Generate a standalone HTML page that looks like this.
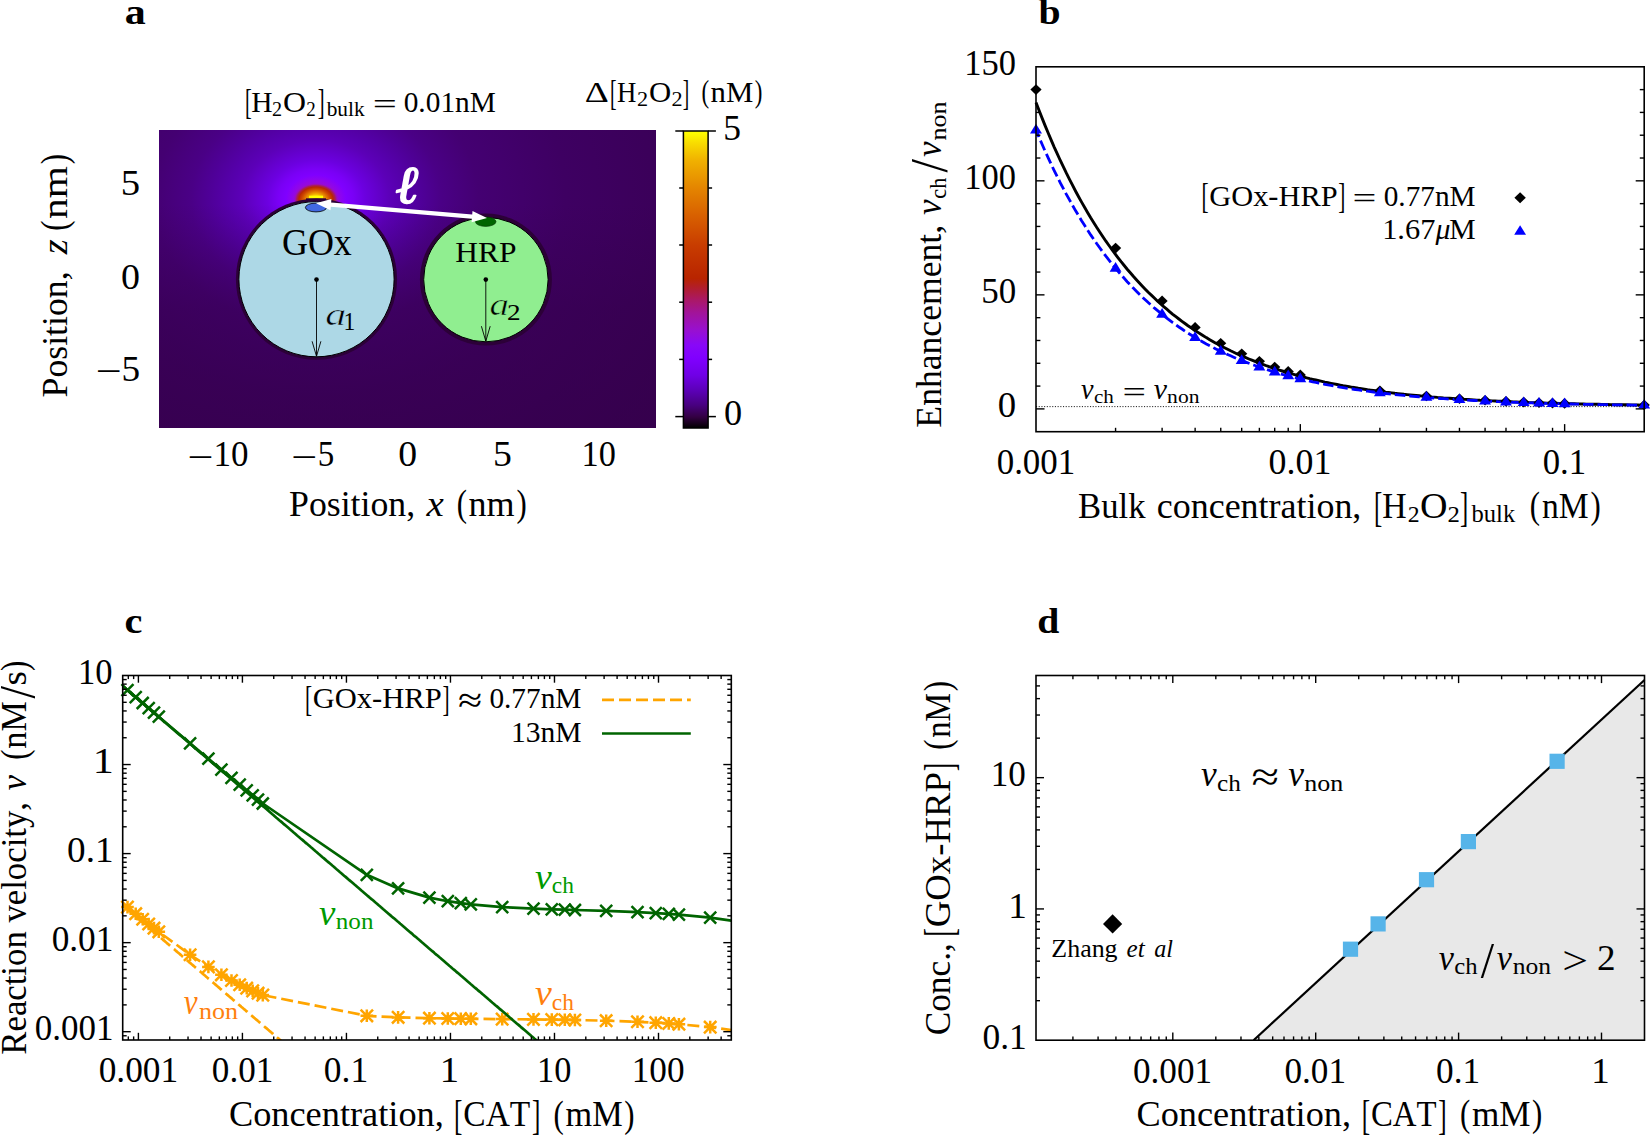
<!DOCTYPE html>
<html><head><meta charset="utf-8"><title>Figure</title>
<style>html,body{margin:0;padding:0;background:#fff}svg{display:block}</style></head>
<body>
<svg width="1650" height="1135" viewBox="0 0 1650 1135" font-family='"Liberation Serif", "DejaVu Serif", serif' fill="#000" style="font-kerning:none">
<rect x="0" y="0" width="1650" height="1135" fill="#fff"/>
<text x="124.65" y="24.3" font-size="36.0" font-weight="bold" textLength="20.99" lengthAdjust="spacingAndGlyphs">a</text>
<text x="1038.50" y="24.3" font-size="36.0" font-weight="bold" textLength="22.12" lengthAdjust="spacingAndGlyphs">b</text>
<text x="124.62" y="633.2" font-size="36.0" font-weight="bold" textLength="17.88" lengthAdjust="spacingAndGlyphs">c</text>
<text x="1037.39" y="633.2" font-size="36.0" font-weight="bold" textLength="22.05" lengthAdjust="spacingAndGlyphs">d</text>
<defs>
<radialGradient id="hg" gradientUnits="userSpaceOnUse" cx="0" cy="0" r="340" gradientTransform="translate(316 199) scale(1.25 1)">
<stop offset="0.0000" stop-color="#9808d8"/>
<stop offset="0.0500" stop-color="#9408e0"/>
<stop offset="0.0588" stop-color="#8c04f0"/>
<stop offset="0.0706" stop-color="#8000ff"/>
<stop offset="0.0882" stop-color="#7a00f6"/>
<stop offset="0.1147" stop-color="#6c00e0"/>
<stop offset="0.1441" stop-color="#6400cc"/>
<stop offset="0.1735" stop-color="#5c00b8"/>
<stop offset="0.2029" stop-color="#5600ac"/>
<stop offset="0.2500" stop-color="#4f0098"/>
<stop offset="0.2941" stop-color="#4a0086"/>
<stop offset="0.3824" stop-color="#440072"/>
<stop offset="0.5882" stop-color="#3e0062"/>
<stop offset="1.0000" stop-color="#380052"/>
</radialGradient>
<linearGradient id="cb" x1="0" y1="1" x2="0" y2="0">
<stop offset="0.0000" stop-color="#000000"/>
<stop offset="0.0134" stop-color="#140018"/>
<stop offset="0.0369" stop-color="#330042"/>
<stop offset="0.0772" stop-color="#480080"/>
<stop offset="0.1275" stop-color="#5c00b8"/>
<stop offset="0.1779" stop-color="#7000e6"/>
<stop offset="0.2349" stop-color="#8000ff"/>
<stop offset="0.2785" stop-color="#8808f8"/>
<stop offset="0.3289" stop-color="#9810d0"/>
<stop offset="0.3893" stop-color="#a21498"/>
<stop offset="0.4295" stop-color="#aa1868"/>
<stop offset="0.4631" stop-color="#b01c38"/>
<stop offset="0.5034" stop-color="#b82400"/>
<stop offset="0.6141" stop-color="#c83c00"/>
<stop offset="0.7148" stop-color="#d86000"/>
<stop offset="0.8054" stop-color="#e48400"/>
<stop offset="0.8993" stop-color="#f0b000"/>
<stop offset="0.9597" stop-color="#f8dc00"/>
<stop offset="0.9966" stop-color="#ffff00"/>
</linearGradient>
<linearGradient id="dk" x1="0" y1="0" x2="0" y2="1"><stop offset="0.25" stop-color="#34004a" stop-opacity="0"/><stop offset="0.6" stop-color="#34004a" stop-opacity="0.45"/><stop offset="1" stop-color="#34004a" stop-opacity="0.6"/></linearGradient>
<radialGradient id="hs" gradientUnits="userSpaceOnUse" cx="0" cy="0" r="17" gradientTransform="translate(316 199.6) scale(1.36 1)">
<stop offset="0.00" stop-color="#ffff00" stop-opacity="1.00"/>
<stop offset="0.20" stop-color="#ffe000" stop-opacity="1.00"/>
<stop offset="0.34" stop-color="#f0a800" stop-opacity="1.00"/>
<stop offset="0.48" stop-color="#e07400" stop-opacity="1.00"/>
<stop offset="0.62" stop-color="#cc4400" stop-opacity="1.00"/>
<stop offset="0.74" stop-color="#b82800" stop-opacity="1.00"/>
<stop offset="0.84" stop-color="#ac2040" stop-opacity="0.80"/>
<stop offset="0.92" stop-color="#a014a0" stop-opacity="0.40"/>
<stop offset="1.00" stop-color="#9408e0" stop-opacity="0.00"/>
</radialGradient>
<clipPath id="hc"><rect x="159" y="130" width="497" height="298"/></clipPath>
</defs>
<rect x="159" y="130" width="497" height="298" fill="url(#hg)"/>
<rect x="159" y="130" width="497" height="298" fill="url(#dk)"/>
<ellipse cx="316" cy="199.6" rx="23.2" ry="17" fill="url(#hs)"/>
<rect x="309" y="195.7" width="14" height="3.1" fill="#ffff00"/>
<circle cx="316.5" cy="279.2" r="80.6" fill="#2c0038"/>
<circle cx="316.5" cy="279.2" r="77.6" fill="#add8e6" stroke="#000" stroke-width="1"/>
<circle cx="485.9" cy="279.6" r="66.0" fill="#2c0038"/>
<circle cx="485.9" cy="279.6" r="62.2" fill="#90ee90" stroke="#000" stroke-width="1"/>
<rect x="306" y="198.3" width="20" height="3.2" fill="#2c0038"/>
<ellipse cx="316" cy="207.5" rx="10.6" ry="4.4" fill="#4169e1" stroke="#000" stroke-width="0.8"/>
<ellipse cx="485.7" cy="221.7" rx="10.3" ry="4.7" fill="#006400" stroke="#003000" stroke-width="0.6"/>
<line x1="327.96" y1="204.32" x2="475.04" y2="216.88" stroke="#fff" stroke-width="4.40"/>
<polygon points="316.0,203.3 330.5,210.2 331.4,199.0" fill="#fff"/>
<polygon points="487.0,217.9 471.6,222.2 472.5,211.0" fill="#fff"/>
<text x="396.39" y="203.4" font-size="53.0" font-style="italic" font-weight="bold" fill="#fff" stroke="#fff" stroke-width="1.6" stroke-linejoin="round" textLength="23.38" lengthAdjust="spacingAndGlyphs">ℓ</text>
<text x="281.93" y="254.7" font-size="37.0" textLength="69.91" lengthAdjust="spacingAndGlyphs">GOx</text>
<text x="455.29" y="261.6" font-size="29.0" textLength="61.27" lengthAdjust="spacingAndGlyphs">HRP</text>
<circle cx="316.5" cy="279.6" r="2.3" fill="#000"/>
<line x1="316.50" y1="279.60" x2="316.50" y2="356.30" stroke="#000" stroke-width="0.90"/>
<path d="M312.1 341.3 L316.5 356.3 L320.9 341.3" stroke="#000" stroke-width="0.90" fill="none"/>
<circle cx="485.8" cy="279.6" r="2.3" fill="#000"/>
<line x1="485.80" y1="279.60" x2="485.80" y2="341.20" stroke="#000" stroke-width="0.90"/>
<path d="M481.4 326.2 L485.8 341.2 L490.2 326.2" stroke="#000" stroke-width="0.90" fill="none"/>
<text><tspan x="325.25" y="324.8" font-size="32.4" font-style="italic" stroke="#add8e6" stroke-width="0.6" textLength="21.03" lengthAdjust="spacingAndGlyphs">a</tspan><tspan x="343.43" y="329.6" font-size="24.5" textLength="11.79" lengthAdjust="spacingAndGlyphs">1</tspan></text>
<text><tspan x="489.44" y="315.0" font-size="32.2" font-style="italic" stroke="#90ee90" stroke-width="0.6" textLength="19.53" lengthAdjust="spacingAndGlyphs">a</tspan><tspan x="506.91" y="320.0" font-size="22.5" textLength="13.60" lengthAdjust="spacingAndGlyphs">2</tspan></text>
<text><tspan x="245.00" y="114.0" font-size="35.6" textLength="6.73" lengthAdjust="spacingAndGlyphs">[</tspan><tspan x="251.15" y="111.6" font-size="30.4" textLength="21.32" lengthAdjust="spacingAndGlyphs">H</tspan><tspan x="271.91" y="115.8" font-size="20.0" textLength="10.10" lengthAdjust="spacingAndGlyphs">2</tspan><tspan x="282.99" y="111.6" font-size="30.4" textLength="23.01" lengthAdjust="spacingAndGlyphs">O</tspan><tspan x="306.37" y="115.8" font-size="20.0" textLength="9.48" lengthAdjust="spacingAndGlyphs">2</tspan><tspan x="317.65" y="114.0" font-size="35.6" textLength="6.88" lengthAdjust="spacingAndGlyphs">]</tspan><tspan x="326.70" y="115.8" font-size="21.5" textLength="37.90" lengthAdjust="spacingAndGlyphs">bulk</tspan> <tspan x="372.87" y="114.1" font-size="29.6" textLength="24.12" lengthAdjust="spacingAndGlyphs">=</tspan> <tspan x="403.68" y="111.6" font-size="30.4" textLength="92.18" lengthAdjust="spacingAndGlyphs">0.01nM</tspan></text>
<text><tspan x="584.88" y="102.0" font-size="30.4" textLength="24.03" lengthAdjust="spacingAndGlyphs">Δ</tspan><tspan x="609.93" y="104.6" font-size="35.9" textLength="6.58" lengthAdjust="spacingAndGlyphs">[</tspan><tspan x="616.93" y="102.0" font-size="30.4" textLength="19.36" lengthAdjust="spacingAndGlyphs">H</tspan><tspan x="637.12" y="105.8" font-size="20.0" textLength="11.10" lengthAdjust="spacingAndGlyphs">2</tspan><tspan x="648.94" y="102.0" font-size="30.4" textLength="22.22" lengthAdjust="spacingAndGlyphs">O</tspan><tspan x="671.52" y="105.8" font-size="20.0" textLength="11.10" lengthAdjust="spacingAndGlyphs">2</tspan><tspan x="682.80" y="104.6" font-size="35.9" textLength="6.43" lengthAdjust="spacingAndGlyphs">]</tspan> <tspan x="701.39" y="102.4" font-size="32.4" textLength="7.65" lengthAdjust="spacingAndGlyphs">(</tspan><tspan x="710.59" y="102.0" font-size="30.4" textLength="42.71" lengthAdjust="spacingAndGlyphs">nM</tspan><tspan x="754.66" y="102.4" font-size="32.4" textLength="7.65" lengthAdjust="spacingAndGlyphs">)</tspan></text>
<rect x="683.4" y="131" width="24.7" height="297" fill="url(#cb)" stroke="#000" stroke-width="1.5"/>
<line x1="675.30" y1="131.00" x2="683.40" y2="131.00" stroke="#000" stroke-width="1.50"/>
<line x1="708.10" y1="131.00" x2="715.90" y2="131.00" stroke="#000" stroke-width="1.50"/>
<line x1="679.20" y1="188.00" x2="683.40" y2="188.00" stroke="#000" stroke-width="1.50"/>
<line x1="708.10" y1="188.00" x2="712.10" y2="188.00" stroke="#000" stroke-width="1.50"/>
<line x1="679.20" y1="245.00" x2="683.40" y2="245.00" stroke="#000" stroke-width="1.50"/>
<line x1="708.10" y1="245.00" x2="712.10" y2="245.00" stroke="#000" stroke-width="1.50"/>
<line x1="679.20" y1="302.20" x2="683.40" y2="302.20" stroke="#000" stroke-width="1.50"/>
<line x1="708.10" y1="302.20" x2="712.10" y2="302.20" stroke="#000" stroke-width="1.50"/>
<line x1="679.20" y1="359.40" x2="683.40" y2="359.40" stroke="#000" stroke-width="1.50"/>
<line x1="708.10" y1="359.40" x2="712.10" y2="359.40" stroke="#000" stroke-width="1.50"/>
<line x1="675.30" y1="416.60" x2="683.40" y2="416.60" stroke="#000" stroke-width="1.50"/>
<line x1="708.10" y1="416.60" x2="715.90" y2="416.60" stroke="#000" stroke-width="1.50"/>
<text x="723.34" y="139.5" font-size="35.5" textLength="17.75" lengthAdjust="spacingAndGlyphs">5</text>
<text x="724.02" y="425.3" font-size="35.5" textLength="18.17" lengthAdjust="spacingAndGlyphs">0</text>
<text><tspan x="187.20" y="468.5" font-size="35.5" textLength="26.06" lengthAdjust="spacingAndGlyphs">−</tspan><tspan x="213.42" y="466.4" font-size="35.5" textLength="35.01" lengthAdjust="spacingAndGlyphs">10</tspan></text>
<text><tspan x="291.10" y="468.5" font-size="35.5" textLength="26.06" lengthAdjust="spacingAndGlyphs">−</tspan><tspan x="317.68" y="466.4" font-size="35.5" textLength="16.51" lengthAdjust="spacingAndGlyphs">5</tspan></text>
<text x="398.36" y="466.4" font-size="35.5" textLength="18.88" lengthAdjust="spacingAndGlyphs">0</text>
<text x="493.01" y="466.4" font-size="35.5" textLength="18.87" lengthAdjust="spacingAndGlyphs">5</text>
<text x="581.48" y="466.4" font-size="35.5" textLength="34.32" lengthAdjust="spacingAndGlyphs">10</text>
<text><tspan x="289.07" y="515.8" font-size="35.5" textLength="126.08" lengthAdjust="spacingAndGlyphs">Position,</tspan> <tspan x="426.48" y="515.8" font-size="35.5" font-style="italic" textLength="17.31" lengthAdjust="spacingAndGlyphs">x</tspan> <tspan x="456.65" y="516.3" font-size="37.8" textLength="10.24" lengthAdjust="spacingAndGlyphs">(</tspan><tspan x="468.57" y="515.8" font-size="35.5" textLength="46.09" lengthAdjust="spacingAndGlyphs">nm</tspan><tspan x="516.61" y="516.3" font-size="37.8" textLength="10.24" lengthAdjust="spacingAndGlyphs">)</tspan></text>
<text x="120.75" y="194.7" font-size="35.5" textLength="19.36" lengthAdjust="spacingAndGlyphs">5</text>
<text x="121.05" y="288.6" font-size="35.5" textLength="18.99" lengthAdjust="spacingAndGlyphs">0</text>
<text><tspan x="95.40" y="383.0" font-size="35.5" textLength="26.06" lengthAdjust="spacingAndGlyphs">−</tspan><tspan x="121.44" y="380.9" font-size="35.5" textLength="18.62" lengthAdjust="spacingAndGlyphs">5</tspan></text>
<text transform="rotate(-90)"><tspan x="-397.43" y="66.7" font-size="35.5" textLength="125.98" lengthAdjust="spacingAndGlyphs">Position,</tspan> <tspan x="-254.37" y="66.7" font-size="35.5" font-style="italic" textLength="14.98" lengthAdjust="spacingAndGlyphs">z</tspan> <tspan x="-230.75" y="67.2" font-size="37.8" textLength="10.24" lengthAdjust="spacingAndGlyphs">(</tspan><tspan x="-218.95" y="66.7" font-size="35.5" textLength="52.90" lengthAdjust="spacingAndGlyphs">nm</tspan><tspan x="-164.19" y="67.2" font-size="37.8" textLength="10.24" lengthAdjust="spacingAndGlyphs">)</tspan></text>
<line x1="1036.00" y1="406.61" x2="1644.20" y2="406.61" stroke="#000" stroke-width="0.90" stroke-dasharray="1.1 1.6"/>
<path d="M1036.0,102.4 L1039.0,110.3 L1042.1,118.1 L1045.1,125.6 L1048.2,133.0 L1051.2,140.1 L1054.2,147.1 L1057.3,153.9 L1060.3,160.5 L1063.4,166.9 L1066.4,173.2 L1069.5,179.3 L1072.5,185.2 L1075.5,191.0 L1078.6,196.7 L1081.6,202.1 L1084.7,207.5 L1087.7,212.7 L1090.7,217.8 L1093.8,222.7 L1096.8,227.5 L1099.9,232.2 L1102.9,236.8 L1105.9,241.2 L1109.0,245.5 L1112.0,249.7 L1115.1,253.8 L1118.1,257.8 L1121.1,261.7 L1124.2,265.5 L1127.2,269.2 L1130.3,272.8 L1133.3,276.3 L1136.4,279.7 L1139.4,283.0 L1142.4,286.2 L1145.5,289.4 L1148.5,292.5 L1151.6,295.4 L1154.6,298.3 L1157.6,301.2 L1160.7,303.9 L1163.7,306.6 L1166.8,309.2 L1169.8,311.8 L1172.8,314.3 L1175.9,316.7 L1178.9,319.0 L1182.0,321.3 L1185.0,323.5 L1188.0,325.7 L1191.1,327.8 L1194.1,329.9 L1197.2,331.9 L1200.2,333.8 L1203.3,335.7 L1206.3,337.6 L1209.3,339.4 L1212.4,341.2 L1215.4,342.9 L1218.5,344.5 L1221.5,346.2 L1224.5,347.7 L1227.6,349.3 L1230.6,350.8 L1233.7,352.2 L1236.7,353.7 L1239.7,355.0 L1242.8,356.4 L1245.8,357.7 L1248.9,359.0 L1251.9,360.2 L1255.0,361.4 L1258.0,362.6 L1261.0,363.8 L1264.1,364.9 L1267.1,366.0 L1270.2,367.0 L1273.2,368.1 L1276.2,369.1 L1279.3,370.1 L1282.3,371.0 L1285.4,372.0 L1288.4,372.9 L1291.4,373.7 L1294.5,374.6 L1297.5,375.4 L1300.6,376.3 L1303.6,377.0 L1306.6,377.8 L1309.7,378.6 L1312.7,379.3 L1315.8,380.0 L1318.8,380.7 L1321.9,381.4 L1324.9,382.1 L1327.9,382.7 L1331.0,383.3 L1334.0,383.9 L1337.1,384.5 L1340.1,385.1 L1343.1,385.7 L1346.2,386.2 L1349.2,386.7 L1352.3,387.3 L1355.3,387.8 L1358.3,388.3 L1361.4,388.7 L1364.4,389.2 L1367.5,389.7 L1370.5,390.1 L1373.6,390.5 L1376.6,391.0 L1379.6,391.4 L1382.7,391.8 L1385.7,392.2 L1388.8,392.5 L1391.8,392.9 L1394.8,393.3 L1397.9,393.6 L1400.9,393.9 L1404.0,394.3 L1407.0,394.6 L1410.0,394.9 L1413.1,395.2 L1416.1,395.5 L1419.2,395.8 L1422.2,396.1 L1425.2,396.4 L1428.3,396.6 L1431.3,396.9 L1434.4,397.1 L1437.4,397.4 L1440.5,397.6 L1443.5,397.9 L1446.5,398.1 L1449.6,398.3 L1452.6,398.5 L1455.7,398.8 L1458.7,399.0 L1461.7,399.2 L1464.8,399.4 L1467.8,399.5 L1470.9,399.7 L1473.9,399.9 L1476.9,400.1 L1480.0,400.3 L1483.0,400.4 L1486.1,400.6 L1489.1,400.7 L1492.2,400.9 L1495.2,401.0 L1498.2,401.2 L1501.3,401.3 L1504.3,401.5 L1507.4,401.6 L1510.4,401.7 L1513.4,401.9 L1516.5,402.0 L1519.5,402.1 L1522.6,402.2 L1525.6,402.3 L1528.6,402.5 L1531.7,402.6 L1534.7,402.7 L1537.8,402.8 L1540.8,402.9 L1543.8,403.0 L1546.9,403.1 L1549.9,403.2 L1553.0,403.2 L1556.0,403.3 L1559.1,403.4 L1562.1,403.5 L1565.1,403.6 L1568.2,403.7 L1571.2,403.7 L1574.3,403.8 L1577.3,403.9 L1580.3,404.0 L1583.4,404.0 L1586.4,404.1 L1589.5,404.2 L1592.5,404.2 L1595.5,404.3 L1598.6,404.3 L1601.6,404.4 L1604.7,404.5 L1607.7,404.5 L1610.7,404.6 L1613.8,404.6 L1616.8,404.7 L1619.9,404.7 L1622.9,404.8 L1626.0,404.8 L1629.0,404.9 L1632.0,404.9 L1635.1,405.0 L1638.1,405.0 L1641.2,405.1 L1644.2,405.1" stroke="#000" stroke-width="2.90" fill="none"/>
<path d="M1036.0,130.0 L1039.0,137.2 L1042.1,144.2 L1045.1,151.1 L1048.2,157.8 L1051.2,164.3 L1054.2,170.6 L1057.3,176.8 L1060.3,182.8 L1063.4,188.7 L1066.4,194.4 L1069.5,199.9 L1072.5,205.3 L1075.5,210.6 L1078.6,215.7 L1081.6,220.7 L1084.7,225.5 L1087.7,230.3 L1090.7,234.9 L1093.8,239.4 L1096.8,243.8 L1099.9,248.0 L1102.9,252.2 L1105.9,256.2 L1109.0,260.1 L1112.0,264.0 L1115.1,267.7 L1118.1,271.3 L1121.1,274.9 L1124.2,278.3 L1127.2,281.7 L1130.3,284.9 L1133.3,288.1 L1136.4,291.2 L1139.4,294.2 L1142.4,297.2 L1145.5,300.0 L1148.5,302.8 L1151.6,305.5 L1154.6,308.2 L1157.6,310.7 L1160.7,313.2 L1163.7,315.7 L1166.8,318.1 L1169.8,320.4 L1172.8,322.6 L1175.9,324.8 L1178.9,327.0 L1182.0,329.0 L1185.0,331.1 L1188.0,333.1 L1191.1,335.0 L1194.1,336.8 L1197.2,338.7 L1200.2,340.4 L1203.3,342.2 L1206.3,343.9 L1209.3,345.5 L1212.4,347.1 L1215.4,348.7 L1218.5,350.2 L1221.5,351.6 L1224.5,353.1 L1227.6,354.5 L1230.6,355.8 L1233.7,357.2 L1236.7,358.5 L1239.7,359.7 L1242.8,361.0 L1245.8,362.1 L1248.9,363.3 L1251.9,364.4 L1255.0,365.5 L1258.0,366.6 L1261.0,367.7 L1264.1,368.7 L1267.1,369.7 L1270.2,370.6 L1273.2,371.6 L1276.2,372.5 L1279.3,373.4 L1282.3,374.3 L1285.4,375.1 L1288.4,375.9 L1291.4,376.7 L1294.5,377.5 L1297.5,378.3 L1300.6,379.0 L1303.6,379.7 L1306.6,380.4 L1309.7,381.1 L1312.7,381.8 L1315.8,382.4 L1318.8,383.1 L1321.9,383.7 L1324.9,384.3 L1327.9,384.9 L1331.0,385.4 L1334.0,386.0 L1337.1,386.5 L1340.1,387.1 L1343.1,387.6 L1346.2,388.1 L1349.2,388.5 L1352.3,389.0 L1355.3,389.5 L1358.3,389.9 L1361.4,390.4 L1364.4,390.8 L1367.5,391.2 L1370.5,391.6 L1373.6,392.0 L1376.6,392.4 L1379.6,392.8 L1382.7,393.1 L1385.7,393.5 L1388.8,393.8 L1391.8,394.1 L1394.8,394.5 L1397.9,394.8 L1400.9,395.1 L1404.0,395.4 L1407.0,395.7 L1410.0,396.0 L1413.1,396.3 L1416.1,396.5 L1419.2,396.8 L1422.2,397.0 L1425.2,397.3 L1428.3,397.5 L1431.3,397.8 L1434.4,398.0 L1437.4,398.2 L1440.5,398.5 L1443.5,398.7 L1446.5,398.9 L1449.6,399.1 L1452.6,399.3 L1455.7,399.5 L1458.7,399.7 L1461.7,399.8 L1464.8,400.0 L1467.8,400.2 L1470.9,400.4 L1473.9,400.5 L1476.9,400.7 L1480.0,400.8 L1483.0,401.0 L1486.1,401.1 L1489.1,401.3 L1492.2,401.4 L1495.2,401.5 L1498.2,401.7 L1501.3,401.8 L1504.3,401.9 L1507.4,402.1 L1510.4,402.2 L1513.4,402.3 L1516.5,402.4 L1519.5,402.5 L1522.6,402.6 L1525.6,402.7 L1528.6,402.8 L1531.7,402.9 L1534.7,403.0 L1537.8,403.1 L1540.8,403.2 L1543.8,403.3 L1546.9,403.4 L1549.9,403.5 L1553.0,403.6 L1556.0,403.6 L1559.1,403.7 L1562.1,403.8 L1565.1,403.9 L1568.2,403.9 L1571.2,404.0 L1574.3,404.1 L1577.3,404.1 L1580.3,404.2 L1583.4,404.3 L1586.4,404.3 L1589.5,404.4 L1592.5,404.4 L1595.5,404.5 L1598.6,404.6 L1601.6,404.6 L1604.7,404.7 L1607.7,404.7 L1610.7,404.8 L1613.8,404.8 L1616.8,404.9 L1619.9,404.9 L1622.9,404.9 L1626.0,405.0 L1629.0,405.0 L1632.0,405.1 L1635.1,405.1 L1638.1,405.2 L1641.2,405.2 L1644.2,405.2" stroke="#0000ff" stroke-width="2.80" fill="none" stroke-dasharray="10.5 4" stroke-dashoffset="3"/>
<polygon points="1030.4,89.6 1036.0,84.3 1041.6,89.6 1036.0,94.9" fill="#000"/>
<polygon points="1110.0,248.1 1115.6,242.8 1121.2,248.1 1115.6,253.4" fill="#000"/>
<polygon points="1156.5,300.9 1162.1,295.6 1167.7,300.9 1162.1,306.2" fill="#000"/>
<polygon points="1189.5,327.4 1195.1,322.1 1200.7,327.4 1195.1,332.7" fill="#000"/>
<polygon points="1215.1,343.2 1220.7,337.9 1226.3,343.2 1220.7,348.5" fill="#000"/>
<polygon points="1236.1,353.8 1241.7,348.5 1247.3,353.8 1241.7,359.1" fill="#000"/>
<polygon points="1253.8,361.3 1259.4,356.0 1265.0,361.3 1259.4,366.6" fill="#000"/>
<polygon points="1269.1,367.0 1274.7,361.7 1280.3,367.0 1274.7,372.3" fill="#000"/>
<polygon points="1282.6,371.4 1288.2,366.1 1293.8,371.4 1288.2,376.7" fill="#000"/>
<polygon points="1294.7,374.9 1300.3,369.6 1305.9,374.9 1300.3,380.2" fill="#000"/>
<polygon points="1374.3,390.8 1379.9,385.5 1385.5,390.8 1379.9,396.1" fill="#000"/>
<polygon points="1420.8,396.0 1426.4,390.7 1432.0,396.0 1426.4,401.3" fill="#000"/>
<polygon points="1453.9,398.7 1459.5,393.4 1465.1,398.7 1459.5,404.0" fill="#000"/>
<polygon points="1479.5,400.3 1485.1,395.0 1490.7,400.3 1485.1,405.6" fill="#000"/>
<polygon points="1500.4,401.3 1506.0,396.0 1511.6,401.3 1506.0,406.6" fill="#000"/>
<polygon points="1518.1,402.1 1523.7,396.8 1529.3,402.1 1523.7,407.4" fill="#000"/>
<polygon points="1533.4,402.7 1539.0,397.4 1544.6,402.7 1539.0,408.0" fill="#000"/>
<polygon points="1546.9,403.1 1552.5,397.8 1558.1,403.1 1552.5,408.4" fill="#000"/>
<polygon points="1559.0,403.4 1564.6,398.1 1570.2,403.4 1564.6,408.7" fill="#000"/>
<polygon points="1638.6,405.0 1644.2,399.7 1649.8,405.0 1644.2,410.3" fill="#000"/>
<polygon points="1030.0,133.4 1036.0,123.7 1042.0,133.4" fill="#0000ff"/>
<polygon points="1109.6,271.7 1115.6,262.0 1121.5,271.7" fill="#0000ff"/>
<polygon points="1156.2,317.8 1162.1,308.1 1168.1,317.8" fill="#0000ff"/>
<polygon points="1189.2,340.9 1195.1,331.2 1201.1,340.9" fill="#0000ff"/>
<polygon points="1214.8,354.7 1220.7,345.0 1226.7,354.7" fill="#0000ff"/>
<polygon points="1235.7,363.9 1241.7,354.2 1247.6,363.9" fill="#0000ff"/>
<polygon points="1253.4,370.5 1259.4,360.8 1265.3,370.5" fill="#0000ff"/>
<polygon points="1268.8,375.4 1274.7,365.7 1280.7,375.4" fill="#0000ff"/>
<polygon points="1282.3,379.3 1288.2,369.6 1294.2,379.3" fill="#0000ff"/>
<polygon points="1294.4,382.3 1300.3,372.6 1306.3,382.3" fill="#0000ff"/>
<polygon points="1373.9,396.2 1379.9,386.5 1385.8,396.2" fill="#0000ff"/>
<polygon points="1420.5,400.8 1426.4,391.1 1432.4,400.8" fill="#0000ff"/>
<polygon points="1453.5,403.1 1459.5,393.4 1465.4,403.1" fill="#0000ff"/>
<polygon points="1479.1,404.5 1485.1,394.8 1491.0,404.5" fill="#0000ff"/>
<polygon points="1500.0,405.4 1506.0,395.7 1511.9,405.4" fill="#0000ff"/>
<polygon points="1517.7,406.1 1523.7,396.4 1529.6,406.1" fill="#0000ff"/>
<polygon points="1533.1,406.6 1539.0,396.9 1545.0,406.6" fill="#0000ff"/>
<polygon points="1546.6,406.9 1552.5,397.2 1558.5,406.9" fill="#0000ff"/>
<polygon points="1558.7,407.2 1564.6,397.5 1570.6,407.2" fill="#0000ff"/>
<polygon points="1638.2,408.6 1644.2,398.9 1650.2,408.6" fill="#0000ff"/>
<rect x="1036.0" y="66.8" width="608.2" height="364.9" fill="none" stroke="#000" stroke-width="1.60"/>
<line x1="1115.57" y1="431.70" x2="1115.57" y2="427.80" stroke="#000" stroke-width="1.40"/>
<line x1="1162.11" y1="431.70" x2="1162.11" y2="427.80" stroke="#000" stroke-width="1.40"/>
<line x1="1195.13" y1="431.70" x2="1195.13" y2="427.80" stroke="#000" stroke-width="1.40"/>
<line x1="1220.75" y1="431.70" x2="1220.75" y2="427.80" stroke="#000" stroke-width="1.40"/>
<line x1="1241.68" y1="431.70" x2="1241.68" y2="427.80" stroke="#000" stroke-width="1.40"/>
<line x1="1259.37" y1="431.70" x2="1259.37" y2="427.80" stroke="#000" stroke-width="1.40"/>
<line x1="1274.70" y1="431.70" x2="1274.70" y2="427.80" stroke="#000" stroke-width="1.40"/>
<line x1="1288.22" y1="431.70" x2="1288.22" y2="427.80" stroke="#000" stroke-width="1.40"/>
<line x1="1300.32" y1="431.70" x2="1300.32" y2="424.10" stroke="#000" stroke-width="1.40"/>
<line x1="1379.88" y1="431.70" x2="1379.88" y2="427.80" stroke="#000" stroke-width="1.40"/>
<line x1="1426.43" y1="431.70" x2="1426.43" y2="427.80" stroke="#000" stroke-width="1.40"/>
<line x1="1459.45" y1="431.70" x2="1459.45" y2="427.80" stroke="#000" stroke-width="1.40"/>
<line x1="1485.07" y1="431.70" x2="1485.07" y2="427.80" stroke="#000" stroke-width="1.40"/>
<line x1="1505.99" y1="431.70" x2="1505.99" y2="427.80" stroke="#000" stroke-width="1.40"/>
<line x1="1523.69" y1="431.70" x2="1523.69" y2="427.80" stroke="#000" stroke-width="1.40"/>
<line x1="1539.02" y1="431.70" x2="1539.02" y2="427.80" stroke="#000" stroke-width="1.40"/>
<line x1="1552.54" y1="431.70" x2="1552.54" y2="427.80" stroke="#000" stroke-width="1.40"/>
<line x1="1564.63" y1="431.70" x2="1564.63" y2="424.10" stroke="#000" stroke-width="1.40"/>
<line x1="1036.00" y1="408.89" x2="1044.50" y2="408.89" stroke="#000" stroke-width="1.40"/>
<line x1="1644.20" y1="408.89" x2="1635.70" y2="408.89" stroke="#000" stroke-width="1.40"/>
<line x1="1036.00" y1="386.09" x2="1040.40" y2="386.09" stroke="#000" stroke-width="1.40"/>
<line x1="1644.20" y1="386.09" x2="1639.80" y2="386.09" stroke="#000" stroke-width="1.40"/>
<line x1="1036.00" y1="363.28" x2="1040.40" y2="363.28" stroke="#000" stroke-width="1.40"/>
<line x1="1644.20" y1="363.28" x2="1639.80" y2="363.28" stroke="#000" stroke-width="1.40"/>
<line x1="1036.00" y1="340.48" x2="1040.40" y2="340.48" stroke="#000" stroke-width="1.40"/>
<line x1="1644.20" y1="340.48" x2="1639.80" y2="340.48" stroke="#000" stroke-width="1.40"/>
<line x1="1036.00" y1="317.67" x2="1040.40" y2="317.67" stroke="#000" stroke-width="1.40"/>
<line x1="1644.20" y1="317.67" x2="1639.80" y2="317.67" stroke="#000" stroke-width="1.40"/>
<line x1="1036.00" y1="294.86" x2="1044.50" y2="294.86" stroke="#000" stroke-width="1.40"/>
<line x1="1644.20" y1="294.86" x2="1635.70" y2="294.86" stroke="#000" stroke-width="1.40"/>
<line x1="1036.00" y1="272.06" x2="1040.40" y2="272.06" stroke="#000" stroke-width="1.40"/>
<line x1="1644.20" y1="272.06" x2="1639.80" y2="272.06" stroke="#000" stroke-width="1.40"/>
<line x1="1036.00" y1="249.25" x2="1040.40" y2="249.25" stroke="#000" stroke-width="1.40"/>
<line x1="1644.20" y1="249.25" x2="1639.80" y2="249.25" stroke="#000" stroke-width="1.40"/>
<line x1="1036.00" y1="226.44" x2="1040.40" y2="226.44" stroke="#000" stroke-width="1.40"/>
<line x1="1644.20" y1="226.44" x2="1639.80" y2="226.44" stroke="#000" stroke-width="1.40"/>
<line x1="1036.00" y1="203.64" x2="1040.40" y2="203.64" stroke="#000" stroke-width="1.40"/>
<line x1="1644.20" y1="203.64" x2="1639.80" y2="203.64" stroke="#000" stroke-width="1.40"/>
<line x1="1036.00" y1="180.83" x2="1044.50" y2="180.83" stroke="#000" stroke-width="1.40"/>
<line x1="1644.20" y1="180.83" x2="1635.70" y2="180.83" stroke="#000" stroke-width="1.40"/>
<line x1="1036.00" y1="158.02" x2="1040.40" y2="158.02" stroke="#000" stroke-width="1.40"/>
<line x1="1644.20" y1="158.02" x2="1639.80" y2="158.02" stroke="#000" stroke-width="1.40"/>
<line x1="1036.00" y1="135.22" x2="1040.40" y2="135.22" stroke="#000" stroke-width="1.40"/>
<line x1="1644.20" y1="135.22" x2="1639.80" y2="135.22" stroke="#000" stroke-width="1.40"/>
<line x1="1036.00" y1="112.41" x2="1040.40" y2="112.41" stroke="#000" stroke-width="1.40"/>
<line x1="1644.20" y1="112.41" x2="1639.80" y2="112.41" stroke="#000" stroke-width="1.40"/>
<line x1="1036.00" y1="89.61" x2="1040.40" y2="89.61" stroke="#000" stroke-width="1.40"/>
<line x1="1644.20" y1="89.61" x2="1639.80" y2="89.61" stroke="#000" stroke-width="1.40"/>
<text x="964.37" y="75.2" font-size="35.5" textLength="51.75" lengthAdjust="spacingAndGlyphs">150</text>
<text x="964.37" y="189.2" font-size="35.5" textLength="51.75" lengthAdjust="spacingAndGlyphs">100</text>
<text x="981.17" y="303.3" font-size="35.5" textLength="34.96" lengthAdjust="spacingAndGlyphs">50</text>
<text x="997.80" y="417.3" font-size="35.5" textLength="18.40" lengthAdjust="spacingAndGlyphs">0</text>
<text x="996.67" y="474.0" font-size="35.5" textLength="78.63" lengthAdjust="spacingAndGlyphs">0.001</text>
<text x="1268.64" y="474.0" font-size="35.5" textLength="62.72" lengthAdjust="spacingAndGlyphs">0.01</text>
<text x="1542.68" y="474.0" font-size="35.5" textLength="43.41" lengthAdjust="spacingAndGlyphs">0.1</text>
<text><tspan x="1078.10" y="517.5" font-size="35.5" textLength="67.40" lengthAdjust="spacingAndGlyphs">Bulk</tspan> <tspan x="1156.83" y="517.5" font-size="35.5" textLength="204.53" lengthAdjust="spacingAndGlyphs">concentration,</tspan> <tspan x="1373.97" y="520.6" font-size="41.4" textLength="8.23" lengthAdjust="spacingAndGlyphs">[</tspan><tspan x="1382.33" y="517.5" font-size="35.5" textLength="24.36" lengthAdjust="spacingAndGlyphs">H</tspan><tspan x="1407.76" y="522.4" font-size="23.0" textLength="11.85" lengthAdjust="spacingAndGlyphs">2</tspan><tspan x="1419.94" y="517.5" font-size="35.5" textLength="27.53" lengthAdjust="spacingAndGlyphs">O</tspan><tspan x="1447.51" y="522.4" font-size="23.0" textLength="12.35" lengthAdjust="spacingAndGlyphs">2</tspan><tspan x="1460.01" y="520.6" font-size="41.4" textLength="8.23" lengthAdjust="spacingAndGlyphs">]</tspan><tspan x="1471.60" y="522.4" font-size="24.5" textLength="43.60" lengthAdjust="spacingAndGlyphs">bulk</tspan> <tspan x="1529.65" y="518.0" font-size="37.8" textLength="10.24" lengthAdjust="spacingAndGlyphs">(</tspan><tspan x="1542.03" y="517.5" font-size="35.5" textLength="46.65" lengthAdjust="spacingAndGlyphs">nM</tspan><tspan x="1590.61" y="518.0" font-size="37.8" textLength="10.24" lengthAdjust="spacingAndGlyphs">)</tspan></text>
<text transform="rotate(-90)"><tspan x="-427.63" y="940.6" font-size="35.5" textLength="202.67" lengthAdjust="spacingAndGlyphs">Enhancement,</tspan> <tspan x="-214.98" y="940.6" font-size="35.5" font-style="italic" textLength="15.58" lengthAdjust="spacingAndGlyphs">v</tspan><tspan x="-198.64" y="945.6" font-size="24.0" textLength="20.94" lengthAdjust="spacingAndGlyphs">ch</tspan><tspan x="-172.40" y="947.1" font-size="52.2" textLength="13.40" lengthAdjust="spacingAndGlyphs">/</tspan><tspan x="-157.08" y="940.6" font-size="35.5" font-style="italic" textLength="15.58" lengthAdjust="spacingAndGlyphs">v</tspan><tspan x="-140.50" y="945.6" font-size="24.0" textLength="38.99" lengthAdjust="spacingAndGlyphs">non</tspan></text>
<text><tspan x="1201.52" y="208.2" font-size="35.2" textLength="7.11" lengthAdjust="spacingAndGlyphs">[</tspan><tspan x="1209.32" y="205.6" font-size="30.4" textLength="128.23" lengthAdjust="spacingAndGlyphs">GOx-HRP</tspan><tspan x="1338.28" y="208.2" font-size="35.2" textLength="7.11" lengthAdjust="spacingAndGlyphs">]</tspan> <tspan x="1352.59" y="208.1" font-size="29.6" textLength="23.88" lengthAdjust="spacingAndGlyphs">=</tspan> <tspan x="1383.69" y="205.6" font-size="30.4" textLength="91.87" lengthAdjust="spacingAndGlyphs">0.77nM</tspan></text>
<text><tspan x="1382.13" y="239.2" font-size="30.4" textLength="53.25" lengthAdjust="spacingAndGlyphs">1.67</tspan><tspan x="1435.53" y="239.2" font-size="30.4" font-style="italic" textLength="14.96" lengthAdjust="spacingAndGlyphs">μ</tspan><tspan x="1449.14" y="239.2" font-size="30.4" textLength="26.43" lengthAdjust="spacingAndGlyphs">M</tspan></text>
<polygon points="1514.4,197.7 1520.1,192.2 1525.8,197.7 1520.1,203.2" fill="#000"/>
<polygon points="1514.2,234.8 1520.1,225.2 1526.0,234.8" fill="#0000ff"/>
<text><tspan x="1081.12" y="399.1" font-size="29.0" font-style="italic" textLength="12.48" lengthAdjust="spacingAndGlyphs">v</tspan><tspan x="1094.00" y="403.0" font-size="19.5" textLength="19.88" lengthAdjust="spacingAndGlyphs">ch</tspan> <tspan x="1122.42" y="401.6" font-size="29.6" textLength="23.51" lengthAdjust="spacingAndGlyphs">=</tspan> <tspan x="1153.79" y="399.1" font-size="29.0" font-style="italic" textLength="13.21" lengthAdjust="spacingAndGlyphs">v</tspan><tspan x="1167.11" y="403.0" font-size="19.5" textLength="32.32" lengthAdjust="spacingAndGlyphs">non</tspan></text>
<clipPath id="cc"><rect x="122.7" y="675.5" width="608.6" height="364.5"/></clipPath>
<g clip-path="url(#cc)">
<path d="M122.3,904.9 L122.9,905.4 L123.6,906.0 L124.2,906.5 L124.9,907.1 L125.5,907.6 L126.1,908.2 L126.8,908.7 L127.4,909.3 L128.1,909.8 L128.7,910.4 L129.4,910.9 L130.0,911.5 L130.6,912.0 L131.3,912.6 L131.9,913.1 L132.6,913.7 L133.2,914.2 L133.9,914.8 L134.5,915.3 L135.1,915.9 L135.8,916.4 L136.4,917.0 L137.1,917.5 L137.7,918.1 L138.4,918.6 L139.0,919.2 L139.6,919.7 L140.3,920.3 L140.9,920.8 L141.6,921.4 L142.2,921.9 L142.9,922.5 L143.5,923.0 L144.1,923.6 L144.8,924.1 L145.4,924.7 L146.1,925.2 L146.7,925.8 L147.4,926.3 L148.0,926.9 L148.6,927.4 L149.3,928.0 L149.9,928.5 L150.6,929.1 L151.2,929.6 L151.9,930.2 L152.5,930.7 L153.1,931.3 L153.8,931.8 L154.4,932.4 L155.1,932.9 L155.7,933.5 L156.4,934.0 L157.0,934.6 L157.6,935.1 L158.3,935.7 L158.9,936.2 L159.6,936.8 L160.2,937.3 L160.9,937.9 L161.5,938.4 L162.1,939.0 L162.8,939.5 L163.4,940.1 L164.1,940.6 L164.7,941.2 L165.4,941.7 L166.0,942.3 L166.6,942.8 L167.3,943.4 L167.9,943.9 L168.6,944.5 L169.2,945.0 L169.9,945.6 L170.5,946.1 L171.1,946.7 L171.8,947.2 L172.4,947.8 L173.1,948.3 L173.7,948.9 L174.4,949.4 L175.0,950.0 L175.6,950.5 L176.3,951.1 L176.9,951.6 L177.6,952.2 L178.2,952.7 L178.9,953.3 L179.5,953.8 L180.1,954.4 L180.8,954.9 L181.4,955.5 L182.1,956.0 L182.7,956.6 L183.4,957.1 L184.0,957.7 L184.6,958.2 L185.3,958.8 L185.9,959.3 L186.6,959.9 L187.2,960.4 L187.9,961.0 L188.5,961.5 L189.1,962.1 L189.8,962.6 L190.4,963.2 L191.1,963.7 L191.7,964.3 L192.4,964.8 L193.0,965.4 L193.6,965.9 L194.3,966.5 L194.9,967.0 L195.6,967.6 L196.2,968.1 L196.9,968.7 L197.5,969.2 L198.1,969.8 L198.8,970.3 L199.4,970.9 L200.1,971.4 L200.7,972.0 L201.4,972.5 L202.0,973.1 L202.6,973.6 L203.3,974.2 L203.9,974.7 L204.6,975.3 L205.2,975.8 L205.9,976.4 L206.5,976.9 L207.1,977.5 L207.8,978.0 L208.4,978.6 L209.1,979.1 L209.7,979.7 L210.4,980.2 L211.0,980.8 L211.6,981.3 L212.3,981.9 L212.9,982.4 L213.6,983.0 L214.2,983.5 L214.9,984.1 L215.5,984.6 L216.1,985.2 L216.8,985.7 L217.4,986.3 L218.1,986.8 L218.7,987.4 L219.3,987.9 L220.0,988.5 L220.6,989.1 L221.3,989.6 L221.9,990.2 L222.6,990.7 L223.2,991.3 L223.8,991.8 L224.5,992.4 L225.1,992.9 L225.8,993.5 L226.4,994.0 L227.1,994.6 L227.7,995.1 L228.3,995.7 L229.0,996.2 L229.6,996.8 L230.3,997.3 L230.9,997.9 L231.6,998.4 L232.2,999.0 L232.8,999.5 L233.5,1000.1 L234.1,1000.6 L234.8,1001.2 L235.4,1001.7 L236.1,1002.3 L236.7,1002.8 L237.3,1003.4 L238.0,1003.9 L238.6,1004.5 L239.3,1005.0 L239.9,1005.6 L240.6,1006.1 L241.2,1006.7 L241.8,1007.2 L242.5,1007.8 L243.1,1008.3 L243.8,1008.9 L244.4,1009.4 L245.1,1010.0 L245.7,1010.5 L246.3,1011.1 L247.0,1011.6 L247.6,1012.2 L248.3,1012.7 L248.9,1013.3 L249.6,1013.8 L250.2,1014.4 L250.8,1014.9 L251.5,1015.5 L252.1,1016.0 L252.8,1016.6 L253.4,1017.1 L254.1,1017.7 L254.7,1018.2 L255.3,1018.8 L256.0,1019.3 L256.6,1019.9 L257.3,1020.4 L257.9,1021.0 L258.6,1021.5 L259.2,1022.1 L259.8,1022.6 L260.5,1023.2 L261.1,1023.7 L261.8,1024.3 L262.4,1024.8 L263.1,1025.4 L263.7,1025.9 L264.3,1026.5 L265.0,1027.0 L265.6,1027.6 L266.3,1028.1 L266.9,1028.7 L267.6,1029.2 L268.2,1029.8 L268.8,1030.3 L269.5,1030.9 L270.1,1031.4 L270.8,1032.0 L271.4,1032.5 L272.1,1033.1 L272.7,1033.6 L273.3,1034.2 L274.0,1034.7 L274.6,1035.3 L275.3,1035.8 L275.9,1036.4 L276.6,1036.9 L277.2,1037.5 L277.8,1038.0 L278.5,1038.6 L279.1,1039.1 L279.8,1039.7 L280.4,1040.2 L281.1,1040.8 L281.7,1041.3 L282.3,1041.9 L283.0,1042.4 L283.6,1043.0 L284.3,1043.5 L284.9,1044.1 L285.6,1044.6 L286.2,1045.2 L286.8,1045.7 L287.5,1046.3 L288.1,1046.8 L288.8,1047.4 L289.4,1047.9 L290.1,1048.5 L290.7,1049.0 L291.3,1049.6 L292.0,1050.1 L292.6,1050.7 L293.3,1051.2 L293.9,1051.8 L294.6,1052.3 L295.2,1052.9 L295.8,1053.4 L296.5,1054.0 L297.1,1054.5 L297.8,1055.1 L298.4,1055.6 L299.1,1056.2 L299.7,1056.7 L300.3,1057.3 L301.0,1057.8 L301.6,1058.4 L302.3,1058.9 L302.9,1059.5 L303.6,1060.0 L304.2,1060.6 L304.8,1061.1 L305.5,1061.7 L306.1,1062.2 L306.8,1062.8 L307.4,1063.3 L308.1,1063.9 L308.7,1064.4 L309.3,1065.0 L310.0,1065.5 L310.6,1066.1 L311.3,1066.6 L311.9,1067.2 L312.6,1067.7 L313.2,1068.3 L313.8,1068.8 L314.5,1069.4 L315.1,1069.9" stroke="#ffa500" stroke-width="2.70" fill="none" stroke-dasharray="12 5"/>
<path d="M122.7,903.2 L127.5,907.1 L135.7,913.7 L142.7,919.2 L148.7,924.0 L154.0,928.1 L158.8,931.8 L190.1,954.7 L208.4,966.9 L221.4,974.8 L231.5,980.5 L239.7,984.8 L246.7,988.1 L252.7,990.9 L258.0,993.2 L262.8,995.1 L366.8,1015.8 L398.1,1017.4 L429.4,1018.2 L447.8,1018.5 L460.8,1018.7 L470.8,1018.8 L502.2,1019.1 L533.5,1019.4 L551.8,1019.6 L564.8,1019.8 L574.9,1020.0 L606.2,1020.7 L637.5,1021.8 L655.8,1022.7 L668.8,1023.4 L678.9,1024.2 L710.2,1027.1 L731.3,1030.1" stroke="#ffa500" stroke-width="2.70" fill="none" stroke-dasharray="12 5"/>
</g>
<path d="M121.3 900.9 L133.6 913.3 M121.3 913.3 L133.6 900.9 M121.2 907.1 L133.8 907.1 M127.5 900.8 L127.5 913.4" stroke="#ffa500" stroke-width="2.50" fill="none"/>
<path d="M129.5 907.5 L141.9 919.9 M129.5 919.9 L141.9 907.5 M129.4 913.7 L142.0 913.7 M135.7 907.4 L135.7 920.0" stroke="#ffa500" stroke-width="2.50" fill="none"/>
<path d="M136.5 913.1 L148.8 925.4 M136.5 925.4 L148.8 913.1 M136.4 919.2 L149.0 919.2 M142.7 912.9 L142.7 925.5" stroke="#ffa500" stroke-width="2.50" fill="none"/>
<path d="M142.5 917.8 L154.9 930.2 M142.5 930.2 L154.9 917.8 M142.4 924.0 L155.0 924.0 M148.7 917.7 L148.7 930.3" stroke="#ffa500" stroke-width="2.50" fill="none"/>
<path d="M147.8 922.0 L160.2 934.3 M147.8 934.3 L160.2 922.0 M147.7 928.1 L160.3 928.1 M154.0 921.8 L154.0 934.4" stroke="#ffa500" stroke-width="2.50" fill="none"/>
<path d="M152.6 925.6 L165.0 938.0 M152.6 938.0 L165.0 925.6 M152.5 931.8 L165.1 931.8 M158.8 925.5 L158.8 938.1" stroke="#ffa500" stroke-width="2.50" fill="none"/>
<path d="M183.9 948.6 L196.3 960.9 M183.9 960.9 L196.3 948.6 M183.8 954.7 L196.4 954.7 M190.1 948.4 L190.1 961.0" stroke="#ffa500" stroke-width="2.50" fill="none"/>
<path d="M202.2 960.7 L214.6 973.1 M202.2 973.1 L214.6 960.7 M202.1 966.9 L214.7 966.9 M208.4 960.6 L208.4 973.2" stroke="#ffa500" stroke-width="2.50" fill="none"/>
<path d="M215.2 968.6 L227.6 981.0 M215.2 981.0 L227.6 968.6 M215.1 974.8 L227.7 974.8 M221.4 968.5 L221.4 981.1" stroke="#ffa500" stroke-width="2.50" fill="none"/>
<path d="M225.3 974.3 L237.7 986.6 M225.3 986.6 L237.7 974.3 M225.2 980.5 L237.8 980.5 M231.5 974.2 L231.5 986.8" stroke="#ffa500" stroke-width="2.50" fill="none"/>
<path d="M233.5 978.6 L245.9 990.9 M233.5 990.9 L245.9 978.6 M233.4 984.8 L246.0 984.8 M239.7 978.5 L239.7 991.1" stroke="#ffa500" stroke-width="2.50" fill="none"/>
<path d="M240.5 982.0 L252.9 994.3 M240.5 994.3 L252.9 982.0 M240.4 988.1 L253.0 988.1 M246.7 981.8 L246.7 994.4" stroke="#ffa500" stroke-width="2.50" fill="none"/>
<path d="M246.5 984.7 L258.9 997.1 M246.5 997.1 L258.9 984.7 M246.4 990.9 L259.0 990.9 M252.7 984.6 L252.7 997.2" stroke="#ffa500" stroke-width="2.50" fill="none"/>
<path d="M251.9 987.0 L264.2 999.3 M251.9 999.3 L264.2 987.0 M251.7 993.2 L264.3 993.2 M258.0 986.9 L258.0 999.5" stroke="#ffa500" stroke-width="2.50" fill="none"/>
<path d="M256.6 988.9 L269.0 1001.3 M256.6 1001.3 L269.0 988.9 M256.5 995.1 L269.1 995.1 M262.8 988.8 L262.8 1001.4" stroke="#ffa500" stroke-width="2.50" fill="none"/>
<path d="M360.6 1009.6 L373.0 1022.0 M360.6 1022.0 L373.0 1009.6 M360.5 1015.8 L373.1 1015.8 M366.8 1009.5 L366.8 1022.1" stroke="#ffa500" stroke-width="2.50" fill="none"/>
<path d="M392.0 1011.2 L404.3 1023.5 M392.0 1023.5 L404.3 1011.2 M391.8 1017.4 L404.4 1017.4 M398.1 1011.1 L398.1 1023.7" stroke="#ffa500" stroke-width="2.50" fill="none"/>
<path d="M423.3 1012.0 L435.6 1024.4 M423.3 1024.4 L435.6 1012.0 M423.1 1018.2 L435.7 1018.2 M429.4 1011.9 L429.4 1024.5" stroke="#ffa500" stroke-width="2.50" fill="none"/>
<path d="M441.6 1012.3 L453.9 1024.7 M441.6 1024.7 L453.9 1012.3 M441.5 1018.5 L454.1 1018.5 M447.8 1012.2 L447.8 1024.8" stroke="#ffa500" stroke-width="2.50" fill="none"/>
<path d="M454.6 1012.5 L466.9 1024.9 M454.6 1024.9 L466.9 1012.5 M454.5 1018.7 L467.1 1018.7 M460.8 1012.4 L460.8 1025.0" stroke="#ffa500" stroke-width="2.50" fill="none"/>
<path d="M464.7 1012.6 L477.0 1025.0 M464.7 1025.0 L477.0 1012.6 M464.5 1018.8 L477.1 1018.8 M470.8 1012.5 L470.8 1025.1" stroke="#ffa500" stroke-width="2.50" fill="none"/>
<path d="M496.0 1012.9 L508.3 1025.3 M496.0 1025.3 L508.3 1012.9 M495.9 1019.1 L508.5 1019.1 M502.2 1012.8 L502.2 1025.4" stroke="#ffa500" stroke-width="2.50" fill="none"/>
<path d="M527.3 1013.2 L539.6 1025.6 M527.3 1025.6 L539.6 1013.2 M527.2 1019.4 L539.8 1019.4 M533.5 1013.1 L533.5 1025.7" stroke="#ffa500" stroke-width="2.50" fill="none"/>
<path d="M545.6 1013.4 L558.0 1025.8 M545.6 1025.8 L558.0 1013.4 M545.5 1019.6 L558.1 1019.6 M551.8 1013.3 L551.8 1025.9" stroke="#ffa500" stroke-width="2.50" fill="none"/>
<path d="M558.6 1013.6 L571.0 1026.0 M558.6 1026.0 L571.0 1013.6 M558.5 1019.8 L571.1 1019.8 M564.8 1013.5 L564.8 1026.1" stroke="#ffa500" stroke-width="2.50" fill="none"/>
<path d="M568.7 1013.8 L581.0 1026.1 M568.7 1026.1 L581.0 1013.8 M568.6 1020.0 L581.2 1020.0 M574.9 1013.7 L574.9 1026.3" stroke="#ffa500" stroke-width="2.50" fill="none"/>
<path d="M600.0 1014.5 L612.3 1026.8 M600.0 1026.8 L612.3 1014.5 M599.9 1020.7 L612.5 1020.7 M606.2 1014.4 L606.2 1027.0" stroke="#ffa500" stroke-width="2.50" fill="none"/>
<path d="M631.3 1015.6 L643.7 1027.9 M631.3 1027.9 L643.7 1015.6 M631.2 1021.8 L643.8 1021.8 M637.5 1015.5 L637.5 1028.1" stroke="#ffa500" stroke-width="2.50" fill="none"/>
<path d="M649.6 1016.5 L662.0 1028.8 M649.6 1028.8 L662.0 1016.5 M649.5 1022.7 L662.1 1022.7 M655.8 1016.4 L655.8 1029.0" stroke="#ffa500" stroke-width="2.50" fill="none"/>
<path d="M662.6 1017.3 L675.0 1029.6 M662.6 1029.6 L675.0 1017.3 M662.5 1023.4 L675.1 1023.4 M668.8 1017.1 L668.8 1029.7" stroke="#ffa500" stroke-width="2.50" fill="none"/>
<path d="M672.7 1018.0 L685.1 1030.3 M672.7 1030.3 L685.1 1018.0 M672.6 1024.2 L685.2 1024.2 M678.9 1017.9 L678.9 1030.5" stroke="#ffa500" stroke-width="2.50" fill="none"/>
<path d="M704.0 1021.0 L716.4 1033.3 M704.0 1033.3 L716.4 1021.0 M703.9 1027.1 L716.5 1027.1 M710.2 1020.8 L710.2 1033.4" stroke="#ffa500" stroke-width="2.50" fill="none"/>
<g clip-path="url(#cc)">
<path d="M122.3,685.8 L123.7,687.0 L125.2,688.2 L126.6,689.5 L128.0,690.7 L129.5,691.9 L130.9,693.2 L132.4,694.4 L133.8,695.6 L135.3,696.9 L136.7,698.1 L138.1,699.3 L139.6,700.6 L141.0,701.8 L142.5,703.0 L143.9,704.3 L145.3,705.5 L146.8,706.7 L148.2,708.0 L149.7,709.2 L151.1,710.4 L152.5,711.7 L154.0,712.9 L155.4,714.1 L156.9,715.4 L158.3,716.6 L159.7,717.8 L161.2,719.1 L162.6,720.3 L164.1,721.5 L165.5,722.8 L166.9,724.0 L168.4,725.2 L169.8,726.5 L171.3,727.7 L172.7,728.9 L174.2,730.2 L175.6,731.4 L177.0,732.6 L178.5,733.9 L179.9,735.1 L181.4,736.3 L182.8,737.6 L184.2,738.8 L185.7,740.0 L187.1,741.3 L188.6,742.5 L190.0,743.7 L191.4,745.0 L192.9,746.2 L194.3,747.4 L195.8,748.7 L197.2,749.9 L198.6,751.1 L200.1,752.4 L201.5,753.6 L203.0,754.8 L204.4,756.1 L205.8,757.3 L207.3,758.5 L208.7,759.8 L210.2,761.0 L211.6,762.2 L213.0,763.5 L214.5,764.7 L215.9,765.9 L217.4,767.2 L218.8,768.4 L220.3,769.6 L221.7,770.9 L223.1,772.1 L224.6,773.3 L226.0,774.6 L227.5,775.8 L228.9,777.0 L230.3,778.3 L231.8,779.5 L233.2,780.7 L234.7,782.0 L236.1,783.2 L237.5,784.4 L239.0,785.7 L240.4,786.9 L241.9,788.1 L243.3,789.4 L244.7,790.6 L246.2,791.8 L247.6,793.1 L249.1,794.3 L250.5,795.5 L251.9,796.7 L253.4,798.0 L254.8,799.2 L256.3,800.4 L257.7,801.7 L259.1,802.9 L260.6,804.1 L262.0,805.4 L263.5,806.6 L264.9,807.8 L266.4,809.1 L267.8,810.3 L269.2,811.5 L270.7,812.8 L272.1,814.0 L273.6,815.2 L275.0,816.5 L276.4,817.7 L277.9,818.9 L279.3,820.2 L280.8,821.4 L282.2,822.6 L283.6,823.9 L285.1,825.1 L286.5,826.3 L288.0,827.6 L289.4,828.8 L290.8,830.0 L292.3,831.3 L293.7,832.5 L295.2,833.7 L296.6,835.0 L298.0,836.2 L299.5,837.4 L300.9,838.7 L302.4,839.9 L303.8,841.1 L305.2,842.4 L306.7,843.6 L308.1,844.8 L309.6,846.1 L311.0,847.3 L312.5,848.5 L313.9,849.8 L315.3,851.0 L316.8,852.2 L318.2,853.5 L319.7,854.7 L321.1,855.9 L322.5,857.2 L324.0,858.4 L325.4,859.6 L326.9,860.9 L328.3,862.1 L329.7,863.3 L331.2,864.6 L332.6,865.8 L334.1,867.0 L335.5,868.3 L336.9,869.5 L338.4,870.7 L339.8,872.0 L341.3,873.2 L342.7,874.4 L344.1,875.7 L345.6,876.9 L347.0,878.1 L348.5,879.4 L349.9,880.6 L351.3,881.8 L352.8,883.1 L354.2,884.3 L355.7,885.5 L357.1,886.8 L358.6,888.0 L360.0,889.2 L361.4,890.5 L362.9,891.7 L364.3,892.9 L365.8,894.2 L367.2,895.4 L368.6,896.6 L370.1,897.9 L371.5,899.1 L373.0,900.3 L374.4,901.6 L375.8,902.8 L377.3,904.0 L378.7,905.3 L380.2,906.5 L381.6,907.7 L383.0,909.0 L384.5,910.2 L385.9,911.4 L387.4,912.7 L388.8,913.9 L390.2,915.1 L391.7,916.4 L393.1,917.6 L394.6,918.8 L396.0,920.1 L397.4,921.3 L398.9,922.5 L400.3,923.8 L401.8,925.0 L403.2,926.2 L404.7,927.5 L406.1,928.7 L407.5,929.9 L409.0,931.2 L410.4,932.4 L411.9,933.6 L413.3,934.9 L414.7,936.1 L416.2,937.3 L417.6,938.6 L419.1,939.8 L420.5,941.0 L421.9,942.3 L423.4,943.5 L424.8,944.7 L426.3,946.0 L427.7,947.2 L429.1,948.4 L430.6,949.7 L432.0,950.9 L433.5,952.1 L434.9,953.4 L436.3,954.6 L437.8,955.8 L439.2,957.1 L440.7,958.3 L442.1,959.5 L443.6,960.8 L445.0,962.0 L446.4,963.2 L447.9,964.5 L449.3,965.7 L450.8,966.9 L452.2,968.2 L453.6,969.4 L455.1,970.6 L456.5,971.9 L458.0,973.1 L459.4,974.3 L460.8,975.6 L462.3,976.8 L463.7,978.0 L465.2,979.3 L466.6,980.5 L468.0,981.7 L469.5,983.0 L470.9,984.2 L472.4,985.4 L473.8,986.7 L475.2,987.9 L476.7,989.1 L478.1,990.4 L479.6,991.6 L481.0,992.8 L482.4,994.1 L483.9,995.3 L485.3,996.5 L486.8,997.8 L488.2,999.0 L489.7,1000.2 L491.1,1001.5 L492.5,1002.7 L494.0,1003.9 L495.4,1005.2 L496.9,1006.4 L498.3,1007.6 L499.7,1008.9 L501.2,1010.1 L502.6,1011.3 L504.1,1012.6 L505.5,1013.8 L506.9,1015.0 L508.4,1016.3 L509.8,1017.5 L511.3,1018.7 L512.7,1020.0 L514.1,1021.2 L515.6,1022.4 L517.0,1023.7 L518.5,1024.9 L519.9,1026.1 L521.3,1027.4 L522.8,1028.6 L524.2,1029.8 L525.7,1031.1 L527.1,1032.3 L528.5,1033.5 L530.0,1034.8 L531.4,1036.0 L532.9,1037.2 L534.3,1038.5 L535.8,1039.7 L537.2,1040.9 L538.6,1042.2 L540.1,1043.4 L541.5,1044.6 L543.0,1045.9 L544.4,1047.1 L545.8,1048.3 L547.3,1049.6 L548.7,1050.8 L550.2,1052.0 L551.6,1053.3 L553.0,1054.5 L554.5,1055.7" stroke="#006400" stroke-width="2.70" fill="none"/>
<path d="M122.7,686.0 L127.5,690.1 L135.7,697.1 L142.7,703.0 L148.7,708.1 L154.0,712.7 L158.8,716.7 L190.1,743.3 L208.4,758.7 L221.4,769.6 L231.5,777.9 L239.7,784.7 L246.7,790.4 L252.7,795.3 L258.0,799.6 L262.8,803.5 L366.8,874.8 L398.1,888.4 L429.4,897.6 L447.8,901.2 L460.8,903.2 L470.8,904.4 L502.2,907.1 L533.5,908.6 L551.8,909.3 L564.8,909.7 L574.9,910.0 L606.2,910.9 L637.5,912.2 L655.8,913.1 L668.8,913.9 L678.9,914.7 L710.2,917.6 L731.3,920.6" stroke="#006400" stroke-width="2.70" fill="none" stroke-linejoin="round"/>
</g>
<path d="M121.5 684.1 L133.5 696.1 M121.5 696.1 L133.5 684.1" stroke="#006400" stroke-width="2.50" fill="none"/>
<path d="M129.7 691.1 L141.7 703.1 M129.7 703.1 L141.7 691.1" stroke="#006400" stroke-width="2.50" fill="none"/>
<path d="M136.7 697.0 L148.7 709.0 M136.7 709.0 L148.7 697.0" stroke="#006400" stroke-width="2.50" fill="none"/>
<path d="M142.7 702.1 L154.7 714.1 M142.7 714.1 L154.7 702.1" stroke="#006400" stroke-width="2.50" fill="none"/>
<path d="M148.0 706.7 L160.0 718.7 M148.0 718.7 L160.0 706.7" stroke="#006400" stroke-width="2.50" fill="none"/>
<path d="M152.8 710.7 L164.8 722.7 M152.8 722.7 L164.8 710.7" stroke="#006400" stroke-width="2.50" fill="none"/>
<path d="M184.1 737.3 L196.1 749.3 M184.1 749.3 L196.1 737.3" stroke="#006400" stroke-width="2.50" fill="none"/>
<path d="M202.4 752.7 L214.4 764.7 M202.4 764.7 L214.4 752.7" stroke="#006400" stroke-width="2.50" fill="none"/>
<path d="M215.4 763.6 L227.4 775.6 M215.4 775.6 L227.4 763.6" stroke="#006400" stroke-width="2.50" fill="none"/>
<path d="M225.5 771.9 L237.5 783.9 M225.5 783.9 L237.5 771.9" stroke="#006400" stroke-width="2.50" fill="none"/>
<path d="M233.7 778.7 L245.7 790.7 M233.7 790.7 L245.7 778.7" stroke="#006400" stroke-width="2.50" fill="none"/>
<path d="M240.7 784.4 L252.7 796.4 M240.7 796.4 L252.7 784.4" stroke="#006400" stroke-width="2.50" fill="none"/>
<path d="M246.7 789.3 L258.7 801.3 M246.7 801.3 L258.7 789.3" stroke="#006400" stroke-width="2.50" fill="none"/>
<path d="M252.0 793.6 L264.0 805.6 M252.0 805.6 L264.0 793.6" stroke="#006400" stroke-width="2.50" fill="none"/>
<path d="M256.8 797.5 L268.8 809.5 M256.8 809.5 L268.8 797.5" stroke="#006400" stroke-width="2.50" fill="none"/>
<path d="M360.8 868.8 L372.8 880.8 M360.8 880.8 L372.8 868.8" stroke="#006400" stroke-width="2.50" fill="none"/>
<path d="M392.1 882.4 L404.1 894.4 M392.1 894.4 L404.1 882.4" stroke="#006400" stroke-width="2.50" fill="none"/>
<path d="M423.4 891.6 L435.4 903.6 M423.4 903.6 L435.4 891.6" stroke="#006400" stroke-width="2.50" fill="none"/>
<path d="M441.8 895.2 L453.8 907.2 M441.8 907.2 L453.8 895.2" stroke="#006400" stroke-width="2.50" fill="none"/>
<path d="M454.8 897.2 L466.8 909.2 M454.8 909.2 L466.8 897.2" stroke="#006400" stroke-width="2.50" fill="none"/>
<path d="M464.8 898.4 L476.8 910.4 M464.8 910.4 L476.8 898.4" stroke="#006400" stroke-width="2.50" fill="none"/>
<path d="M496.2 901.1 L508.2 913.1 M496.2 913.1 L508.2 901.1" stroke="#006400" stroke-width="2.50" fill="none"/>
<path d="M527.5 902.6 L539.5 914.6 M527.5 914.6 L539.5 902.6" stroke="#006400" stroke-width="2.50" fill="none"/>
<path d="M545.8 903.3 L557.8 915.3 M545.8 915.3 L557.8 903.3" stroke="#006400" stroke-width="2.50" fill="none"/>
<path d="M558.8 903.7 L570.8 915.7 M558.8 915.7 L570.8 903.7" stroke="#006400" stroke-width="2.50" fill="none"/>
<path d="M568.9 904.0 L580.9 916.0 M568.9 916.0 L580.9 904.0" stroke="#006400" stroke-width="2.50" fill="none"/>
<path d="M600.2 904.9 L612.2 916.9 M600.2 916.9 L612.2 904.9" stroke="#006400" stroke-width="2.50" fill="none"/>
<path d="M631.5 906.2 L643.5 918.2 M631.5 918.2 L643.5 906.2" stroke="#006400" stroke-width="2.50" fill="none"/>
<path d="M649.8 907.1 L661.8 919.1 M649.8 919.1 L661.8 907.1" stroke="#006400" stroke-width="2.50" fill="none"/>
<path d="M662.8 907.9 L674.8 919.9 M662.8 919.9 L674.8 907.9" stroke="#006400" stroke-width="2.50" fill="none"/>
<path d="M672.9 908.7 L684.9 920.7 M672.9 920.7 L684.9 908.7" stroke="#006400" stroke-width="2.50" fill="none"/>
<path d="M704.2 911.6 L716.2 923.6 M704.2 923.6 L716.2 911.6" stroke="#006400" stroke-width="2.50" fill="none"/>
<rect x="122.7" y="675.5" width="608.6" height="364.5" fill="none" stroke="#000" stroke-width="1.60"/>
<line x1="128.32" y1="1040.00" x2="128.32" y2="1036.40" stroke="#000" stroke-width="1.40"/>
<line x1="128.32" y1="675.50" x2="128.32" y2="679.10" stroke="#000" stroke-width="1.40"/>
<line x1="133.64" y1="1040.00" x2="133.64" y2="1036.40" stroke="#000" stroke-width="1.40"/>
<line x1="133.64" y1="675.50" x2="133.64" y2="679.10" stroke="#000" stroke-width="1.40"/>
<line x1="138.40" y1="1040.00" x2="138.40" y2="1032.80" stroke="#000" stroke-width="1.40"/>
<line x1="138.40" y1="675.50" x2="138.40" y2="682.70" stroke="#000" stroke-width="1.40"/>
<line x1="169.71" y1="1040.00" x2="169.71" y2="1036.40" stroke="#000" stroke-width="1.40"/>
<line x1="169.71" y1="675.50" x2="169.71" y2="679.10" stroke="#000" stroke-width="1.40"/>
<line x1="188.03" y1="1040.00" x2="188.03" y2="1036.40" stroke="#000" stroke-width="1.40"/>
<line x1="188.03" y1="675.50" x2="188.03" y2="679.10" stroke="#000" stroke-width="1.40"/>
<line x1="201.03" y1="1040.00" x2="201.03" y2="1036.40" stroke="#000" stroke-width="1.40"/>
<line x1="201.03" y1="675.50" x2="201.03" y2="679.10" stroke="#000" stroke-width="1.40"/>
<line x1="211.11" y1="1040.00" x2="211.11" y2="1036.40" stroke="#000" stroke-width="1.40"/>
<line x1="211.11" y1="675.50" x2="211.11" y2="679.10" stroke="#000" stroke-width="1.40"/>
<line x1="219.34" y1="1040.00" x2="219.34" y2="1036.40" stroke="#000" stroke-width="1.40"/>
<line x1="219.34" y1="675.50" x2="219.34" y2="679.10" stroke="#000" stroke-width="1.40"/>
<line x1="226.31" y1="1040.00" x2="226.31" y2="1036.40" stroke="#000" stroke-width="1.40"/>
<line x1="226.31" y1="675.50" x2="226.31" y2="679.10" stroke="#000" stroke-width="1.40"/>
<line x1="232.34" y1="1040.00" x2="232.34" y2="1036.40" stroke="#000" stroke-width="1.40"/>
<line x1="232.34" y1="675.50" x2="232.34" y2="679.10" stroke="#000" stroke-width="1.40"/>
<line x1="237.66" y1="1040.00" x2="237.66" y2="1036.40" stroke="#000" stroke-width="1.40"/>
<line x1="237.66" y1="675.50" x2="237.66" y2="679.10" stroke="#000" stroke-width="1.40"/>
<line x1="242.42" y1="1040.00" x2="242.42" y2="1032.80" stroke="#000" stroke-width="1.40"/>
<line x1="242.42" y1="675.50" x2="242.42" y2="682.70" stroke="#000" stroke-width="1.40"/>
<line x1="273.73" y1="1040.00" x2="273.73" y2="1036.40" stroke="#000" stroke-width="1.40"/>
<line x1="273.73" y1="675.50" x2="273.73" y2="679.10" stroke="#000" stroke-width="1.40"/>
<line x1="292.05" y1="1040.00" x2="292.05" y2="1036.40" stroke="#000" stroke-width="1.40"/>
<line x1="292.05" y1="675.50" x2="292.05" y2="679.10" stroke="#000" stroke-width="1.40"/>
<line x1="305.05" y1="1040.00" x2="305.05" y2="1036.40" stroke="#000" stroke-width="1.40"/>
<line x1="305.05" y1="675.50" x2="305.05" y2="679.10" stroke="#000" stroke-width="1.40"/>
<line x1="315.13" y1="1040.00" x2="315.13" y2="1036.40" stroke="#000" stroke-width="1.40"/>
<line x1="315.13" y1="675.50" x2="315.13" y2="679.10" stroke="#000" stroke-width="1.40"/>
<line x1="323.36" y1="1040.00" x2="323.36" y2="1036.40" stroke="#000" stroke-width="1.40"/>
<line x1="323.36" y1="675.50" x2="323.36" y2="679.10" stroke="#000" stroke-width="1.40"/>
<line x1="330.33" y1="1040.00" x2="330.33" y2="1036.40" stroke="#000" stroke-width="1.40"/>
<line x1="330.33" y1="675.50" x2="330.33" y2="679.10" stroke="#000" stroke-width="1.40"/>
<line x1="336.36" y1="1040.00" x2="336.36" y2="1036.40" stroke="#000" stroke-width="1.40"/>
<line x1="336.36" y1="675.50" x2="336.36" y2="679.10" stroke="#000" stroke-width="1.40"/>
<line x1="341.68" y1="1040.00" x2="341.68" y2="1036.40" stroke="#000" stroke-width="1.40"/>
<line x1="341.68" y1="675.50" x2="341.68" y2="679.10" stroke="#000" stroke-width="1.40"/>
<line x1="346.44" y1="1040.00" x2="346.44" y2="1032.80" stroke="#000" stroke-width="1.40"/>
<line x1="346.44" y1="675.50" x2="346.44" y2="682.70" stroke="#000" stroke-width="1.40"/>
<line x1="377.75" y1="1040.00" x2="377.75" y2="1036.40" stroke="#000" stroke-width="1.40"/>
<line x1="377.75" y1="675.50" x2="377.75" y2="679.10" stroke="#000" stroke-width="1.40"/>
<line x1="396.07" y1="1040.00" x2="396.07" y2="1036.40" stroke="#000" stroke-width="1.40"/>
<line x1="396.07" y1="675.50" x2="396.07" y2="679.10" stroke="#000" stroke-width="1.40"/>
<line x1="409.07" y1="1040.00" x2="409.07" y2="1036.40" stroke="#000" stroke-width="1.40"/>
<line x1="409.07" y1="675.50" x2="409.07" y2="679.10" stroke="#000" stroke-width="1.40"/>
<line x1="419.15" y1="1040.00" x2="419.15" y2="1036.40" stroke="#000" stroke-width="1.40"/>
<line x1="419.15" y1="675.50" x2="419.15" y2="679.10" stroke="#000" stroke-width="1.40"/>
<line x1="427.38" y1="1040.00" x2="427.38" y2="1036.40" stroke="#000" stroke-width="1.40"/>
<line x1="427.38" y1="675.50" x2="427.38" y2="679.10" stroke="#000" stroke-width="1.40"/>
<line x1="434.35" y1="1040.00" x2="434.35" y2="1036.40" stroke="#000" stroke-width="1.40"/>
<line x1="434.35" y1="675.50" x2="434.35" y2="679.10" stroke="#000" stroke-width="1.40"/>
<line x1="440.38" y1="1040.00" x2="440.38" y2="1036.40" stroke="#000" stroke-width="1.40"/>
<line x1="440.38" y1="675.50" x2="440.38" y2="679.10" stroke="#000" stroke-width="1.40"/>
<line x1="445.70" y1="1040.00" x2="445.70" y2="1036.40" stroke="#000" stroke-width="1.40"/>
<line x1="445.70" y1="675.50" x2="445.70" y2="679.10" stroke="#000" stroke-width="1.40"/>
<line x1="450.46" y1="1040.00" x2="450.46" y2="1032.80" stroke="#000" stroke-width="1.40"/>
<line x1="450.46" y1="675.50" x2="450.46" y2="682.70" stroke="#000" stroke-width="1.40"/>
<line x1="481.77" y1="1040.00" x2="481.77" y2="1036.40" stroke="#000" stroke-width="1.40"/>
<line x1="481.77" y1="675.50" x2="481.77" y2="679.10" stroke="#000" stroke-width="1.40"/>
<line x1="500.09" y1="1040.00" x2="500.09" y2="1036.40" stroke="#000" stroke-width="1.40"/>
<line x1="500.09" y1="675.50" x2="500.09" y2="679.10" stroke="#000" stroke-width="1.40"/>
<line x1="513.09" y1="1040.00" x2="513.09" y2="1036.40" stroke="#000" stroke-width="1.40"/>
<line x1="513.09" y1="675.50" x2="513.09" y2="679.10" stroke="#000" stroke-width="1.40"/>
<line x1="523.17" y1="1040.00" x2="523.17" y2="1036.40" stroke="#000" stroke-width="1.40"/>
<line x1="523.17" y1="675.50" x2="523.17" y2="679.10" stroke="#000" stroke-width="1.40"/>
<line x1="531.40" y1="1040.00" x2="531.40" y2="1036.40" stroke="#000" stroke-width="1.40"/>
<line x1="531.40" y1="675.50" x2="531.40" y2="679.10" stroke="#000" stroke-width="1.40"/>
<line x1="538.37" y1="1040.00" x2="538.37" y2="1036.40" stroke="#000" stroke-width="1.40"/>
<line x1="538.37" y1="675.50" x2="538.37" y2="679.10" stroke="#000" stroke-width="1.40"/>
<line x1="544.40" y1="1040.00" x2="544.40" y2="1036.40" stroke="#000" stroke-width="1.40"/>
<line x1="544.40" y1="675.50" x2="544.40" y2="679.10" stroke="#000" stroke-width="1.40"/>
<line x1="549.72" y1="1040.00" x2="549.72" y2="1036.40" stroke="#000" stroke-width="1.40"/>
<line x1="549.72" y1="675.50" x2="549.72" y2="679.10" stroke="#000" stroke-width="1.40"/>
<line x1="554.48" y1="1040.00" x2="554.48" y2="1032.80" stroke="#000" stroke-width="1.40"/>
<line x1="554.48" y1="675.50" x2="554.48" y2="682.70" stroke="#000" stroke-width="1.40"/>
<line x1="585.79" y1="1040.00" x2="585.79" y2="1036.40" stroke="#000" stroke-width="1.40"/>
<line x1="585.79" y1="675.50" x2="585.79" y2="679.10" stroke="#000" stroke-width="1.40"/>
<line x1="604.11" y1="1040.00" x2="604.11" y2="1036.40" stroke="#000" stroke-width="1.40"/>
<line x1="604.11" y1="675.50" x2="604.11" y2="679.10" stroke="#000" stroke-width="1.40"/>
<line x1="617.11" y1="1040.00" x2="617.11" y2="1036.40" stroke="#000" stroke-width="1.40"/>
<line x1="617.11" y1="675.50" x2="617.11" y2="679.10" stroke="#000" stroke-width="1.40"/>
<line x1="627.19" y1="1040.00" x2="627.19" y2="1036.40" stroke="#000" stroke-width="1.40"/>
<line x1="627.19" y1="675.50" x2="627.19" y2="679.10" stroke="#000" stroke-width="1.40"/>
<line x1="635.42" y1="1040.00" x2="635.42" y2="1036.40" stroke="#000" stroke-width="1.40"/>
<line x1="635.42" y1="675.50" x2="635.42" y2="679.10" stroke="#000" stroke-width="1.40"/>
<line x1="642.39" y1="1040.00" x2="642.39" y2="1036.40" stroke="#000" stroke-width="1.40"/>
<line x1="642.39" y1="675.50" x2="642.39" y2="679.10" stroke="#000" stroke-width="1.40"/>
<line x1="648.42" y1="1040.00" x2="648.42" y2="1036.40" stroke="#000" stroke-width="1.40"/>
<line x1="648.42" y1="675.50" x2="648.42" y2="679.10" stroke="#000" stroke-width="1.40"/>
<line x1="653.74" y1="1040.00" x2="653.74" y2="1036.40" stroke="#000" stroke-width="1.40"/>
<line x1="653.74" y1="675.50" x2="653.74" y2="679.10" stroke="#000" stroke-width="1.40"/>
<line x1="658.50" y1="1040.00" x2="658.50" y2="1032.80" stroke="#000" stroke-width="1.40"/>
<line x1="658.50" y1="675.50" x2="658.50" y2="682.70" stroke="#000" stroke-width="1.40"/>
<line x1="689.81" y1="1040.00" x2="689.81" y2="1036.40" stroke="#000" stroke-width="1.40"/>
<line x1="689.81" y1="675.50" x2="689.81" y2="679.10" stroke="#000" stroke-width="1.40"/>
<line x1="708.13" y1="1040.00" x2="708.13" y2="1036.40" stroke="#000" stroke-width="1.40"/>
<line x1="708.13" y1="675.50" x2="708.13" y2="679.10" stroke="#000" stroke-width="1.40"/>
<line x1="721.13" y1="1040.00" x2="721.13" y2="1036.40" stroke="#000" stroke-width="1.40"/>
<line x1="721.13" y1="675.50" x2="721.13" y2="679.10" stroke="#000" stroke-width="1.40"/>
<line x1="122.70" y1="1035.77" x2="126.70" y2="1035.77" stroke="#000" stroke-width="1.40"/>
<line x1="731.30" y1="1035.77" x2="727.30" y2="1035.77" stroke="#000" stroke-width="1.40"/>
<line x1="122.70" y1="1031.70" x2="130.70" y2="1031.70" stroke="#000" stroke-width="1.40"/>
<line x1="731.30" y1="1031.70" x2="723.30" y2="1031.70" stroke="#000" stroke-width="1.40"/>
<line x1="122.70" y1="1004.89" x2="126.70" y2="1004.89" stroke="#000" stroke-width="1.40"/>
<line x1="731.30" y1="1004.89" x2="727.30" y2="1004.89" stroke="#000" stroke-width="1.40"/>
<line x1="122.70" y1="989.21" x2="126.70" y2="989.21" stroke="#000" stroke-width="1.40"/>
<line x1="731.30" y1="989.21" x2="727.30" y2="989.21" stroke="#000" stroke-width="1.40"/>
<line x1="122.70" y1="978.09" x2="126.70" y2="978.09" stroke="#000" stroke-width="1.40"/>
<line x1="731.30" y1="978.09" x2="727.30" y2="978.09" stroke="#000" stroke-width="1.40"/>
<line x1="122.70" y1="969.46" x2="126.70" y2="969.46" stroke="#000" stroke-width="1.40"/>
<line x1="731.30" y1="969.46" x2="727.30" y2="969.46" stroke="#000" stroke-width="1.40"/>
<line x1="122.70" y1="962.41" x2="126.70" y2="962.41" stroke="#000" stroke-width="1.40"/>
<line x1="731.30" y1="962.41" x2="727.30" y2="962.41" stroke="#000" stroke-width="1.40"/>
<line x1="122.70" y1="956.44" x2="126.70" y2="956.44" stroke="#000" stroke-width="1.40"/>
<line x1="731.30" y1="956.44" x2="727.30" y2="956.44" stroke="#000" stroke-width="1.40"/>
<line x1="122.70" y1="951.28" x2="126.70" y2="951.28" stroke="#000" stroke-width="1.40"/>
<line x1="731.30" y1="951.28" x2="727.30" y2="951.28" stroke="#000" stroke-width="1.40"/>
<line x1="122.70" y1="946.72" x2="126.70" y2="946.72" stroke="#000" stroke-width="1.40"/>
<line x1="731.30" y1="946.72" x2="727.30" y2="946.72" stroke="#000" stroke-width="1.40"/>
<line x1="122.70" y1="942.65" x2="130.70" y2="942.65" stroke="#000" stroke-width="1.40"/>
<line x1="731.30" y1="942.65" x2="723.30" y2="942.65" stroke="#000" stroke-width="1.40"/>
<line x1="122.70" y1="915.84" x2="126.70" y2="915.84" stroke="#000" stroke-width="1.40"/>
<line x1="731.30" y1="915.84" x2="727.30" y2="915.84" stroke="#000" stroke-width="1.40"/>
<line x1="122.70" y1="900.16" x2="126.70" y2="900.16" stroke="#000" stroke-width="1.40"/>
<line x1="731.30" y1="900.16" x2="727.30" y2="900.16" stroke="#000" stroke-width="1.40"/>
<line x1="122.70" y1="889.04" x2="126.70" y2="889.04" stroke="#000" stroke-width="1.40"/>
<line x1="731.30" y1="889.04" x2="727.30" y2="889.04" stroke="#000" stroke-width="1.40"/>
<line x1="122.70" y1="880.41" x2="126.70" y2="880.41" stroke="#000" stroke-width="1.40"/>
<line x1="731.30" y1="880.41" x2="727.30" y2="880.41" stroke="#000" stroke-width="1.40"/>
<line x1="122.70" y1="873.36" x2="126.70" y2="873.36" stroke="#000" stroke-width="1.40"/>
<line x1="731.30" y1="873.36" x2="727.30" y2="873.36" stroke="#000" stroke-width="1.40"/>
<line x1="122.70" y1="867.39" x2="126.70" y2="867.39" stroke="#000" stroke-width="1.40"/>
<line x1="731.30" y1="867.39" x2="727.30" y2="867.39" stroke="#000" stroke-width="1.40"/>
<line x1="122.70" y1="862.23" x2="126.70" y2="862.23" stroke="#000" stroke-width="1.40"/>
<line x1="731.30" y1="862.23" x2="727.30" y2="862.23" stroke="#000" stroke-width="1.40"/>
<line x1="122.70" y1="857.67" x2="126.70" y2="857.67" stroke="#000" stroke-width="1.40"/>
<line x1="731.30" y1="857.67" x2="727.30" y2="857.67" stroke="#000" stroke-width="1.40"/>
<line x1="122.70" y1="853.60" x2="130.70" y2="853.60" stroke="#000" stroke-width="1.40"/>
<line x1="731.30" y1="853.60" x2="723.30" y2="853.60" stroke="#000" stroke-width="1.40"/>
<line x1="122.70" y1="826.79" x2="126.70" y2="826.79" stroke="#000" stroke-width="1.40"/>
<line x1="731.30" y1="826.79" x2="727.30" y2="826.79" stroke="#000" stroke-width="1.40"/>
<line x1="122.70" y1="811.11" x2="126.70" y2="811.11" stroke="#000" stroke-width="1.40"/>
<line x1="731.30" y1="811.11" x2="727.30" y2="811.11" stroke="#000" stroke-width="1.40"/>
<line x1="122.70" y1="799.99" x2="126.70" y2="799.99" stroke="#000" stroke-width="1.40"/>
<line x1="731.30" y1="799.99" x2="727.30" y2="799.99" stroke="#000" stroke-width="1.40"/>
<line x1="122.70" y1="791.36" x2="126.70" y2="791.36" stroke="#000" stroke-width="1.40"/>
<line x1="731.30" y1="791.36" x2="727.30" y2="791.36" stroke="#000" stroke-width="1.40"/>
<line x1="122.70" y1="784.31" x2="126.70" y2="784.31" stroke="#000" stroke-width="1.40"/>
<line x1="731.30" y1="784.31" x2="727.30" y2="784.31" stroke="#000" stroke-width="1.40"/>
<line x1="122.70" y1="778.34" x2="126.70" y2="778.34" stroke="#000" stroke-width="1.40"/>
<line x1="731.30" y1="778.34" x2="727.30" y2="778.34" stroke="#000" stroke-width="1.40"/>
<line x1="122.70" y1="773.18" x2="126.70" y2="773.18" stroke="#000" stroke-width="1.40"/>
<line x1="731.30" y1="773.18" x2="727.30" y2="773.18" stroke="#000" stroke-width="1.40"/>
<line x1="122.70" y1="768.62" x2="126.70" y2="768.62" stroke="#000" stroke-width="1.40"/>
<line x1="731.30" y1="768.62" x2="727.30" y2="768.62" stroke="#000" stroke-width="1.40"/>
<line x1="122.70" y1="764.55" x2="130.70" y2="764.55" stroke="#000" stroke-width="1.40"/>
<line x1="731.30" y1="764.55" x2="723.30" y2="764.55" stroke="#000" stroke-width="1.40"/>
<line x1="122.70" y1="737.74" x2="126.70" y2="737.74" stroke="#000" stroke-width="1.40"/>
<line x1="731.30" y1="737.74" x2="727.30" y2="737.74" stroke="#000" stroke-width="1.40"/>
<line x1="122.70" y1="722.06" x2="126.70" y2="722.06" stroke="#000" stroke-width="1.40"/>
<line x1="731.30" y1="722.06" x2="727.30" y2="722.06" stroke="#000" stroke-width="1.40"/>
<line x1="122.70" y1="710.94" x2="126.70" y2="710.94" stroke="#000" stroke-width="1.40"/>
<line x1="731.30" y1="710.94" x2="727.30" y2="710.94" stroke="#000" stroke-width="1.40"/>
<line x1="122.70" y1="702.31" x2="126.70" y2="702.31" stroke="#000" stroke-width="1.40"/>
<line x1="731.30" y1="702.31" x2="727.30" y2="702.31" stroke="#000" stroke-width="1.40"/>
<line x1="122.70" y1="695.26" x2="126.70" y2="695.26" stroke="#000" stroke-width="1.40"/>
<line x1="731.30" y1="695.26" x2="727.30" y2="695.26" stroke="#000" stroke-width="1.40"/>
<line x1="122.70" y1="689.29" x2="126.70" y2="689.29" stroke="#000" stroke-width="1.40"/>
<line x1="731.30" y1="689.29" x2="727.30" y2="689.29" stroke="#000" stroke-width="1.40"/>
<line x1="122.70" y1="684.13" x2="126.70" y2="684.13" stroke="#000" stroke-width="1.40"/>
<line x1="731.30" y1="684.13" x2="727.30" y2="684.13" stroke="#000" stroke-width="1.40"/>
<line x1="122.70" y1="679.57" x2="126.70" y2="679.57" stroke="#000" stroke-width="1.40"/>
<line x1="731.30" y1="679.57" x2="727.30" y2="679.57" stroke="#000" stroke-width="1.40"/>
<text x="78.06" y="684.1" font-size="35.5" textLength="34.55" lengthAdjust="spacingAndGlyphs">10</text>
<text x="92.81" y="773.1" font-size="35.5" textLength="21.02" lengthAdjust="spacingAndGlyphs">1</text>
<text x="67.08" y="862.2" font-size="35.5" textLength="46.45" lengthAdjust="spacingAndGlyphs">0.1</text>
<text x="51.66" y="951.2" font-size="35.5" textLength="61.76" lengthAdjust="spacingAndGlyphs">0.01</text>
<text x="34.67" y="1040.3" font-size="35.5" textLength="78.73" lengthAdjust="spacingAndGlyphs">0.001</text>
<text x="98.65" y="1082.0" font-size="35.5" textLength="79.47" lengthAdjust="spacingAndGlyphs">0.001</text>
<text x="211.86" y="1082.0" font-size="35.5" textLength="61.45" lengthAdjust="spacingAndGlyphs">0.01</text>
<text x="323.85" y="1082.0" font-size="35.5" textLength="44.28" lengthAdjust="spacingAndGlyphs">0.1</text>
<text x="439.80" y="1082.0" font-size="35.5" textLength="19.32" lengthAdjust="spacingAndGlyphs">1</text>
<text x="536.98" y="1082.0" font-size="35.5" textLength="34.32" lengthAdjust="spacingAndGlyphs">10</text>
<text x="631.70" y="1082.0" font-size="35.5" textLength="52.84" lengthAdjust="spacingAndGlyphs">100</text>
<text><tspan x="228.91" y="1126.2" font-size="35.5" textLength="214.88" lengthAdjust="spacingAndGlyphs">Concentration,</tspan> <tspan x="454.03" y="1129.2" font-size="41.4" textLength="8.38" lengthAdjust="spacingAndGlyphs">[</tspan><tspan x="463.33" y="1126.2" font-size="35.5" textLength="66.93" lengthAdjust="spacingAndGlyphs">CAT</tspan><tspan x="531.99" y="1129.2" font-size="41.4" textLength="8.38" lengthAdjust="spacingAndGlyphs">]</tspan> <tspan x="553.55" y="1126.7" font-size="37.8" textLength="10.24" lengthAdjust="spacingAndGlyphs">(</tspan><tspan x="565.58" y="1126.2" font-size="35.5" textLength="57.12" lengthAdjust="spacingAndGlyphs">mM</tspan><tspan x="624.21" y="1126.7" font-size="37.8" textLength="10.24" lengthAdjust="spacingAndGlyphs">)</tspan></text>
<text transform="rotate(-90)"><tspan x="-1054.70" y="26.0" font-size="35.5" textLength="252.69" lengthAdjust="spacingAndGlyphs">Reaction velocity,</tspan> <tspan x="-790.17" y="26.0" font-size="35.5" font-style="italic" textLength="15.17" lengthAdjust="spacingAndGlyphs">v</tspan> <tspan x="-759.85" y="26.5" font-size="37.8" textLength="10.24" lengthAdjust="spacingAndGlyphs">(</tspan><tspan x="-748.68" y="26.0" font-size="35.5" textLength="47.38" lengthAdjust="spacingAndGlyphs">nM</tspan><tspan x="-698.40" y="34.1" font-size="51.3" textLength="12.50" lengthAdjust="spacingAndGlyphs">/</tspan><tspan x="-685.42" y="26.0" font-size="35.5" textLength="14.47" lengthAdjust="spacingAndGlyphs">s</tspan><tspan x="-670.99" y="26.5" font-size="37.8" textLength="10.24" lengthAdjust="spacingAndGlyphs">)</tspan></text>
<text><tspan x="304.92" y="710.7" font-size="35.2" textLength="7.11" lengthAdjust="spacingAndGlyphs">[</tspan><tspan x="312.71" y="708.1" font-size="30.4" textLength="128.94" lengthAdjust="spacingAndGlyphs">GOx-HRP</tspan><tspan x="442.38" y="710.7" font-size="35.2" textLength="7.11" lengthAdjust="spacingAndGlyphs">]</tspan> <tspan x="458.07" y="711.8" font-size="35.6" textLength="24.25" lengthAdjust="spacingAndGlyphs">≈</tspan> <tspan x="489.38" y="708.1" font-size="30.4" textLength="92.08" lengthAdjust="spacingAndGlyphs">0.77nM</tspan></text>
<text x="510.90" y="741.5" font-size="30.4" textLength="70.56" lengthAdjust="spacingAndGlyphs">13nM</text>
<line x1="602.00" y1="699.90" x2="690.80" y2="699.90" stroke="#ffa500" stroke-width="2.70" stroke-dasharray="12 5"/>
<line x1="602.00" y1="733.50" x2="690.80" y2="733.50" stroke="#006400" stroke-width="2.70"/>
<text><tspan x="534.98" y="888.7" font-size="35.5" font-style="italic" fill="#009a00" textLength="16.82" lengthAdjust="spacingAndGlyphs">v</tspan><tspan x="551.81" y="893.3" font-size="24.0" fill="#009a00" textLength="22.10" lengthAdjust="spacingAndGlyphs">ch</tspan></text>
<text><tspan x="319.09" y="924.5" font-size="35.5" font-style="italic" fill="#009a00" textLength="16.41" lengthAdjust="spacingAndGlyphs">v</tspan><tspan x="335.82" y="928.5" font-size="24.0" fill="#009a00" textLength="37.66" lengthAdjust="spacingAndGlyphs">non</tspan></text>
<text><tspan x="534.98" y="1004.9" font-size="35.5" font-style="italic" fill="#ff7f0e" textLength="16.82" lengthAdjust="spacingAndGlyphs">v</tspan><tspan x="551.81" y="1009.6" font-size="24.0" fill="#ff7f0e" textLength="22.10" lengthAdjust="spacingAndGlyphs">ch</tspan></text>
<text><tspan x="183.67" y="1013.7" font-size="35.5" font-style="italic" fill="#ff7f0e" textLength="13.83" lengthAdjust="spacingAndGlyphs">v</tspan><tspan x="199.00" y="1018.5" font-size="24.0" fill="#ff7f0e" textLength="39.09" lengthAdjust="spacingAndGlyphs">non</tspan></text>
<polygon points="1253.6,1040.2 1644.5,680 1644.5,1040.2" fill="#e8e8e8"/>
<line x1="1253.60" y1="1040.20" x2="1644.50" y2="680.00" stroke="#000" stroke-width="2.20"/>
<rect x="1342.9" y="941.6" width="15.2" height="15.2" fill="#56b4e9"/>
<rect x="1370.5" y="916.3" width="15.2" height="15.2" fill="#56b4e9"/>
<rect x="1418.9" y="872.1" width="15.2" height="15.2" fill="#56b4e9"/>
<rect x="1460.8" y="834.0" width="15.2" height="15.2" fill="#56b4e9"/>
<rect x="1549.5" y="753.7" width="15.2" height="15.2" fill="#56b4e9"/>
<polygon points="1103.0,923.9 1112.6,914.2 1122.2,923.9 1112.6,933.6" fill="#000"/>
<rect x="1036.0" y="675.5" width="608.5" height="364.7" fill="none" stroke="#000" stroke-width="1.60"/>
<line x1="1072.92" y1="1040.20" x2="1072.92" y2="1036.40" stroke="#000" stroke-width="1.40"/>
<line x1="1072.92" y1="675.50" x2="1072.92" y2="679.30" stroke="#000" stroke-width="1.40"/>
<line x1="1098.08" y1="1040.20" x2="1098.08" y2="1036.40" stroke="#000" stroke-width="1.40"/>
<line x1="1098.08" y1="675.50" x2="1098.08" y2="679.30" stroke="#000" stroke-width="1.40"/>
<line x1="1115.93" y1="1040.20" x2="1115.93" y2="1036.40" stroke="#000" stroke-width="1.40"/>
<line x1="1115.93" y1="675.50" x2="1115.93" y2="679.30" stroke="#000" stroke-width="1.40"/>
<line x1="1129.78" y1="1040.20" x2="1129.78" y2="1036.40" stroke="#000" stroke-width="1.40"/>
<line x1="1129.78" y1="675.50" x2="1129.78" y2="679.30" stroke="#000" stroke-width="1.40"/>
<line x1="1141.10" y1="1040.20" x2="1141.10" y2="1036.40" stroke="#000" stroke-width="1.40"/>
<line x1="1141.10" y1="675.50" x2="1141.10" y2="679.30" stroke="#000" stroke-width="1.40"/>
<line x1="1150.66" y1="1040.20" x2="1150.66" y2="1036.40" stroke="#000" stroke-width="1.40"/>
<line x1="1150.66" y1="675.50" x2="1150.66" y2="679.30" stroke="#000" stroke-width="1.40"/>
<line x1="1158.95" y1="1040.20" x2="1158.95" y2="1036.40" stroke="#000" stroke-width="1.40"/>
<line x1="1158.95" y1="675.50" x2="1158.95" y2="679.30" stroke="#000" stroke-width="1.40"/>
<line x1="1166.26" y1="1040.20" x2="1166.26" y2="1036.40" stroke="#000" stroke-width="1.40"/>
<line x1="1166.26" y1="675.50" x2="1166.26" y2="679.30" stroke="#000" stroke-width="1.40"/>
<line x1="1172.80" y1="1040.20" x2="1172.80" y2="1032.60" stroke="#000" stroke-width="1.40"/>
<line x1="1172.80" y1="675.50" x2="1172.80" y2="683.10" stroke="#000" stroke-width="1.40"/>
<line x1="1215.82" y1="1040.20" x2="1215.82" y2="1036.40" stroke="#000" stroke-width="1.40"/>
<line x1="1215.82" y1="675.50" x2="1215.82" y2="679.30" stroke="#000" stroke-width="1.40"/>
<line x1="1240.98" y1="1040.20" x2="1240.98" y2="1036.40" stroke="#000" stroke-width="1.40"/>
<line x1="1240.98" y1="675.50" x2="1240.98" y2="679.30" stroke="#000" stroke-width="1.40"/>
<line x1="1258.83" y1="1040.20" x2="1258.83" y2="1036.40" stroke="#000" stroke-width="1.40"/>
<line x1="1258.83" y1="675.50" x2="1258.83" y2="679.30" stroke="#000" stroke-width="1.40"/>
<line x1="1272.68" y1="1040.20" x2="1272.68" y2="1036.40" stroke="#000" stroke-width="1.40"/>
<line x1="1272.68" y1="675.50" x2="1272.68" y2="679.30" stroke="#000" stroke-width="1.40"/>
<line x1="1284.00" y1="1040.20" x2="1284.00" y2="1036.40" stroke="#000" stroke-width="1.40"/>
<line x1="1284.00" y1="675.50" x2="1284.00" y2="679.30" stroke="#000" stroke-width="1.40"/>
<line x1="1293.56" y1="1040.20" x2="1293.56" y2="1036.40" stroke="#000" stroke-width="1.40"/>
<line x1="1293.56" y1="675.50" x2="1293.56" y2="679.30" stroke="#000" stroke-width="1.40"/>
<line x1="1301.85" y1="1040.20" x2="1301.85" y2="1036.40" stroke="#000" stroke-width="1.40"/>
<line x1="1301.85" y1="675.50" x2="1301.85" y2="679.30" stroke="#000" stroke-width="1.40"/>
<line x1="1309.16" y1="1040.20" x2="1309.16" y2="1036.40" stroke="#000" stroke-width="1.40"/>
<line x1="1309.16" y1="675.50" x2="1309.16" y2="679.30" stroke="#000" stroke-width="1.40"/>
<line x1="1315.70" y1="1040.20" x2="1315.70" y2="1032.60" stroke="#000" stroke-width="1.40"/>
<line x1="1315.70" y1="675.50" x2="1315.70" y2="683.10" stroke="#000" stroke-width="1.40"/>
<line x1="1358.72" y1="1040.20" x2="1358.72" y2="1036.40" stroke="#000" stroke-width="1.40"/>
<line x1="1358.72" y1="675.50" x2="1358.72" y2="679.30" stroke="#000" stroke-width="1.40"/>
<line x1="1383.88" y1="1040.20" x2="1383.88" y2="1036.40" stroke="#000" stroke-width="1.40"/>
<line x1="1383.88" y1="675.50" x2="1383.88" y2="679.30" stroke="#000" stroke-width="1.40"/>
<line x1="1401.73" y1="1040.20" x2="1401.73" y2="1036.40" stroke="#000" stroke-width="1.40"/>
<line x1="1401.73" y1="675.50" x2="1401.73" y2="679.30" stroke="#000" stroke-width="1.40"/>
<line x1="1415.58" y1="1040.20" x2="1415.58" y2="1036.40" stroke="#000" stroke-width="1.40"/>
<line x1="1415.58" y1="675.50" x2="1415.58" y2="679.30" stroke="#000" stroke-width="1.40"/>
<line x1="1426.90" y1="1040.20" x2="1426.90" y2="1036.40" stroke="#000" stroke-width="1.40"/>
<line x1="1426.90" y1="675.50" x2="1426.90" y2="679.30" stroke="#000" stroke-width="1.40"/>
<line x1="1436.46" y1="1040.20" x2="1436.46" y2="1036.40" stroke="#000" stroke-width="1.40"/>
<line x1="1436.46" y1="675.50" x2="1436.46" y2="679.30" stroke="#000" stroke-width="1.40"/>
<line x1="1444.75" y1="1040.20" x2="1444.75" y2="1036.40" stroke="#000" stroke-width="1.40"/>
<line x1="1444.75" y1="675.50" x2="1444.75" y2="679.30" stroke="#000" stroke-width="1.40"/>
<line x1="1452.06" y1="1040.20" x2="1452.06" y2="1036.40" stroke="#000" stroke-width="1.40"/>
<line x1="1452.06" y1="675.50" x2="1452.06" y2="679.30" stroke="#000" stroke-width="1.40"/>
<line x1="1458.60" y1="1040.20" x2="1458.60" y2="1032.60" stroke="#000" stroke-width="1.40"/>
<line x1="1458.60" y1="675.50" x2="1458.60" y2="683.10" stroke="#000" stroke-width="1.40"/>
<line x1="1501.62" y1="1040.20" x2="1501.62" y2="1036.40" stroke="#000" stroke-width="1.40"/>
<line x1="1501.62" y1="675.50" x2="1501.62" y2="679.30" stroke="#000" stroke-width="1.40"/>
<line x1="1526.78" y1="1040.20" x2="1526.78" y2="1036.40" stroke="#000" stroke-width="1.40"/>
<line x1="1526.78" y1="675.50" x2="1526.78" y2="679.30" stroke="#000" stroke-width="1.40"/>
<line x1="1544.63" y1="1040.20" x2="1544.63" y2="1036.40" stroke="#000" stroke-width="1.40"/>
<line x1="1544.63" y1="675.50" x2="1544.63" y2="679.30" stroke="#000" stroke-width="1.40"/>
<line x1="1558.48" y1="1040.20" x2="1558.48" y2="1036.40" stroke="#000" stroke-width="1.40"/>
<line x1="1558.48" y1="675.50" x2="1558.48" y2="679.30" stroke="#000" stroke-width="1.40"/>
<line x1="1569.80" y1="1040.20" x2="1569.80" y2="1036.40" stroke="#000" stroke-width="1.40"/>
<line x1="1569.80" y1="675.50" x2="1569.80" y2="679.30" stroke="#000" stroke-width="1.40"/>
<line x1="1579.36" y1="1040.20" x2="1579.36" y2="1036.40" stroke="#000" stroke-width="1.40"/>
<line x1="1579.36" y1="675.50" x2="1579.36" y2="679.30" stroke="#000" stroke-width="1.40"/>
<line x1="1587.65" y1="1040.20" x2="1587.65" y2="1036.40" stroke="#000" stroke-width="1.40"/>
<line x1="1587.65" y1="675.50" x2="1587.65" y2="679.30" stroke="#000" stroke-width="1.40"/>
<line x1="1594.96" y1="1040.20" x2="1594.96" y2="1036.40" stroke="#000" stroke-width="1.40"/>
<line x1="1594.96" y1="675.50" x2="1594.96" y2="679.30" stroke="#000" stroke-width="1.40"/>
<line x1="1601.50" y1="1040.20" x2="1601.50" y2="1032.60" stroke="#000" stroke-width="1.40"/>
<line x1="1601.50" y1="675.50" x2="1601.50" y2="683.10" stroke="#000" stroke-width="1.40"/>
<line x1="1036.00" y1="1000.68" x2="1040.00" y2="1000.68" stroke="#000" stroke-width="1.40"/>
<line x1="1644.50" y1="1000.68" x2="1640.50" y2="1000.68" stroke="#000" stroke-width="1.40"/>
<line x1="1036.00" y1="977.57" x2="1040.00" y2="977.57" stroke="#000" stroke-width="1.40"/>
<line x1="1644.50" y1="977.57" x2="1640.50" y2="977.57" stroke="#000" stroke-width="1.40"/>
<line x1="1036.00" y1="961.17" x2="1040.00" y2="961.17" stroke="#000" stroke-width="1.40"/>
<line x1="1644.50" y1="961.17" x2="1640.50" y2="961.17" stroke="#000" stroke-width="1.40"/>
<line x1="1036.00" y1="948.45" x2="1040.00" y2="948.45" stroke="#000" stroke-width="1.40"/>
<line x1="1644.50" y1="948.45" x2="1640.50" y2="948.45" stroke="#000" stroke-width="1.40"/>
<line x1="1036.00" y1="938.05" x2="1040.00" y2="938.05" stroke="#000" stroke-width="1.40"/>
<line x1="1644.50" y1="938.05" x2="1640.50" y2="938.05" stroke="#000" stroke-width="1.40"/>
<line x1="1036.00" y1="929.26" x2="1040.00" y2="929.26" stroke="#000" stroke-width="1.40"/>
<line x1="1644.50" y1="929.26" x2="1640.50" y2="929.26" stroke="#000" stroke-width="1.40"/>
<line x1="1036.00" y1="921.65" x2="1040.00" y2="921.65" stroke="#000" stroke-width="1.40"/>
<line x1="1644.50" y1="921.65" x2="1640.50" y2="921.65" stroke="#000" stroke-width="1.40"/>
<line x1="1036.00" y1="914.94" x2="1040.00" y2="914.94" stroke="#000" stroke-width="1.40"/>
<line x1="1644.50" y1="914.94" x2="1640.50" y2="914.94" stroke="#000" stroke-width="1.40"/>
<line x1="1036.00" y1="908.93" x2="1044.00" y2="908.93" stroke="#000" stroke-width="1.40"/>
<line x1="1644.50" y1="908.93" x2="1636.50" y2="908.93" stroke="#000" stroke-width="1.40"/>
<line x1="1036.00" y1="869.41" x2="1040.00" y2="869.41" stroke="#000" stroke-width="1.40"/>
<line x1="1644.50" y1="869.41" x2="1640.50" y2="869.41" stroke="#000" stroke-width="1.40"/>
<line x1="1036.00" y1="846.30" x2="1040.00" y2="846.30" stroke="#000" stroke-width="1.40"/>
<line x1="1644.50" y1="846.30" x2="1640.50" y2="846.30" stroke="#000" stroke-width="1.40"/>
<line x1="1036.00" y1="829.90" x2="1040.00" y2="829.90" stroke="#000" stroke-width="1.40"/>
<line x1="1644.50" y1="829.90" x2="1640.50" y2="829.90" stroke="#000" stroke-width="1.40"/>
<line x1="1036.00" y1="817.18" x2="1040.00" y2="817.18" stroke="#000" stroke-width="1.40"/>
<line x1="1644.50" y1="817.18" x2="1640.50" y2="817.18" stroke="#000" stroke-width="1.40"/>
<line x1="1036.00" y1="806.78" x2="1040.00" y2="806.78" stroke="#000" stroke-width="1.40"/>
<line x1="1644.50" y1="806.78" x2="1640.50" y2="806.78" stroke="#000" stroke-width="1.40"/>
<line x1="1036.00" y1="797.99" x2="1040.00" y2="797.99" stroke="#000" stroke-width="1.40"/>
<line x1="1644.50" y1="797.99" x2="1640.50" y2="797.99" stroke="#000" stroke-width="1.40"/>
<line x1="1036.00" y1="790.38" x2="1040.00" y2="790.38" stroke="#000" stroke-width="1.40"/>
<line x1="1644.50" y1="790.38" x2="1640.50" y2="790.38" stroke="#000" stroke-width="1.40"/>
<line x1="1036.00" y1="783.67" x2="1040.00" y2="783.67" stroke="#000" stroke-width="1.40"/>
<line x1="1644.50" y1="783.67" x2="1640.50" y2="783.67" stroke="#000" stroke-width="1.40"/>
<line x1="1036.00" y1="777.66" x2="1044.00" y2="777.66" stroke="#000" stroke-width="1.40"/>
<line x1="1644.50" y1="777.66" x2="1636.50" y2="777.66" stroke="#000" stroke-width="1.40"/>
<line x1="1036.00" y1="738.14" x2="1040.00" y2="738.14" stroke="#000" stroke-width="1.40"/>
<line x1="1644.50" y1="738.14" x2="1640.50" y2="738.14" stroke="#000" stroke-width="1.40"/>
<line x1="1036.00" y1="715.03" x2="1040.00" y2="715.03" stroke="#000" stroke-width="1.40"/>
<line x1="1644.50" y1="715.03" x2="1640.50" y2="715.03" stroke="#000" stroke-width="1.40"/>
<line x1="1036.00" y1="698.63" x2="1040.00" y2="698.63" stroke="#000" stroke-width="1.40"/>
<line x1="1644.50" y1="698.63" x2="1640.50" y2="698.63" stroke="#000" stroke-width="1.40"/>
<line x1="1036.00" y1="685.91" x2="1040.00" y2="685.91" stroke="#000" stroke-width="1.40"/>
<line x1="1644.50" y1="685.91" x2="1640.50" y2="685.91" stroke="#000" stroke-width="1.40"/>
<text x="990.81" y="786.3" font-size="35.5" textLength="35.12" lengthAdjust="spacingAndGlyphs">10</text>
<text x="1008.23" y="917.5" font-size="35.5" textLength="18.61" lengthAdjust="spacingAndGlyphs">1</text>
<text x="982.45" y="1048.8" font-size="35.5" textLength="44.28" lengthAdjust="spacingAndGlyphs">0.1</text>
<text x="1132.96" y="1082.5" font-size="35.5" textLength="79.15" lengthAdjust="spacingAndGlyphs">0.001</text>
<text x="1284.46" y="1082.5" font-size="35.5" textLength="61.55" lengthAdjust="spacingAndGlyphs">0.01</text>
<text x="1436.06" y="1082.5" font-size="35.5" textLength="44.06" lengthAdjust="spacingAndGlyphs">0.1</text>
<text x="1591.25" y="1082.5" font-size="35.5" textLength="18.46" lengthAdjust="spacingAndGlyphs">1</text>
<text><tspan x="1136.51" y="1125.8" font-size="35.5" textLength="214.47" lengthAdjust="spacingAndGlyphs">Concentration,</tspan> <tspan x="1361.63" y="1128.8" font-size="41.4" textLength="8.38" lengthAdjust="spacingAndGlyphs">[</tspan><tspan x="1370.95" y="1125.8" font-size="35.5" textLength="65.59" lengthAdjust="spacingAndGlyphs">CAT</tspan><tspan x="1438.29" y="1128.8" font-size="41.4" textLength="8.38" lengthAdjust="spacingAndGlyphs">]</tspan> <tspan x="1460.05" y="1126.3" font-size="37.8" textLength="10.24" lengthAdjust="spacingAndGlyphs">(</tspan><tspan x="1472.06" y="1125.8" font-size="35.5" textLength="58.57" lengthAdjust="spacingAndGlyphs">mM</tspan><tspan x="1532.11" y="1126.3" font-size="37.8" textLength="10.24" lengthAdjust="spacingAndGlyphs">)</tspan></text>
<text transform="rotate(-90)"><tspan x="-1035.35" y="949.5" font-size="35.5" textLength="92.17" lengthAdjust="spacingAndGlyphs">Conc.,</tspan> <tspan x="-936.47" y="952.5" font-size="41.4" textLength="8.38" lengthAdjust="spacingAndGlyphs">[</tspan><tspan x="-927.31" y="949.5" font-size="35.5" textLength="155.18" lengthAdjust="spacingAndGlyphs">GOx-HRP</tspan><tspan x="-771.31" y="952.5" font-size="41.4" textLength="8.38" lengthAdjust="spacingAndGlyphs">]</tspan> <tspan x="-749.85" y="950.0" font-size="37.8" textLength="10.24" lengthAdjust="spacingAndGlyphs">(</tspan><tspan x="-737.84" y="949.5" font-size="35.5" textLength="44.99" lengthAdjust="spacingAndGlyphs">nM</tspan><tspan x="-691.29" y="950.0" font-size="37.8" textLength="10.24" lengthAdjust="spacingAndGlyphs">)</tspan></text>
<text><tspan x="1051.36" y="956.9" font-size="25.0" textLength="66.23" lengthAdjust="spacingAndGlyphs">Zhang</tspan> <tspan x="1126.53" y="956.9" font-size="25.0" font-style="italic" textLength="18.17" lengthAdjust="spacingAndGlyphs">et</tspan> <tspan x="1154.18" y="956.9" font-size="25.0" font-style="italic" textLength="18.75" lengthAdjust="spacingAndGlyphs">al</tspan></text>
<text><tspan x="1201.12" y="786.1" font-size="35.5" font-style="italic" textLength="15.68" lengthAdjust="spacingAndGlyphs">v</tspan><tspan x="1217.04" y="790.7" font-size="24.0" textLength="23.79" lengthAdjust="spacingAndGlyphs">ch</tspan> <tspan x="1251.40" y="790.5" font-size="42.1" textLength="27.53" lengthAdjust="spacingAndGlyphs">≈</tspan> <tspan x="1288.31" y="786.1" font-size="35.5" font-style="italic" textLength="15.79" lengthAdjust="spacingAndGlyphs">v</tspan><tspan x="1304.30" y="790.7" font-size="24.0" textLength="38.99" lengthAdjust="spacingAndGlyphs">non</tspan></text>
<text><tspan x="1438.83" y="969.7" font-size="35.5" font-style="italic" textLength="15.17" lengthAdjust="spacingAndGlyphs">v</tspan><tspan x="1454.36" y="974.4" font-size="24.0" textLength="23.26" lengthAdjust="spacingAndGlyphs">ch</tspan><tspan x="1480.70" y="977.2" font-size="51.4" textLength="13.30" lengthAdjust="spacingAndGlyphs">/</tspan><tspan x="1496.83" y="969.7" font-size="35.5" font-style="italic" textLength="15.17" lengthAdjust="spacingAndGlyphs">v</tspan><tspan x="1512.71" y="974.4" font-size="24.0" textLength="38.37" lengthAdjust="spacingAndGlyphs">non</tspan> <tspan x="1562.38" y="973.6" font-size="39.4" textLength="25.81" lengthAdjust="spacingAndGlyphs">&gt;</tspan> <tspan x="1597.07" y="969.7" font-size="35.5" textLength="18.58" lengthAdjust="spacingAndGlyphs">2</tspan></text>
</svg>
</body></html>
